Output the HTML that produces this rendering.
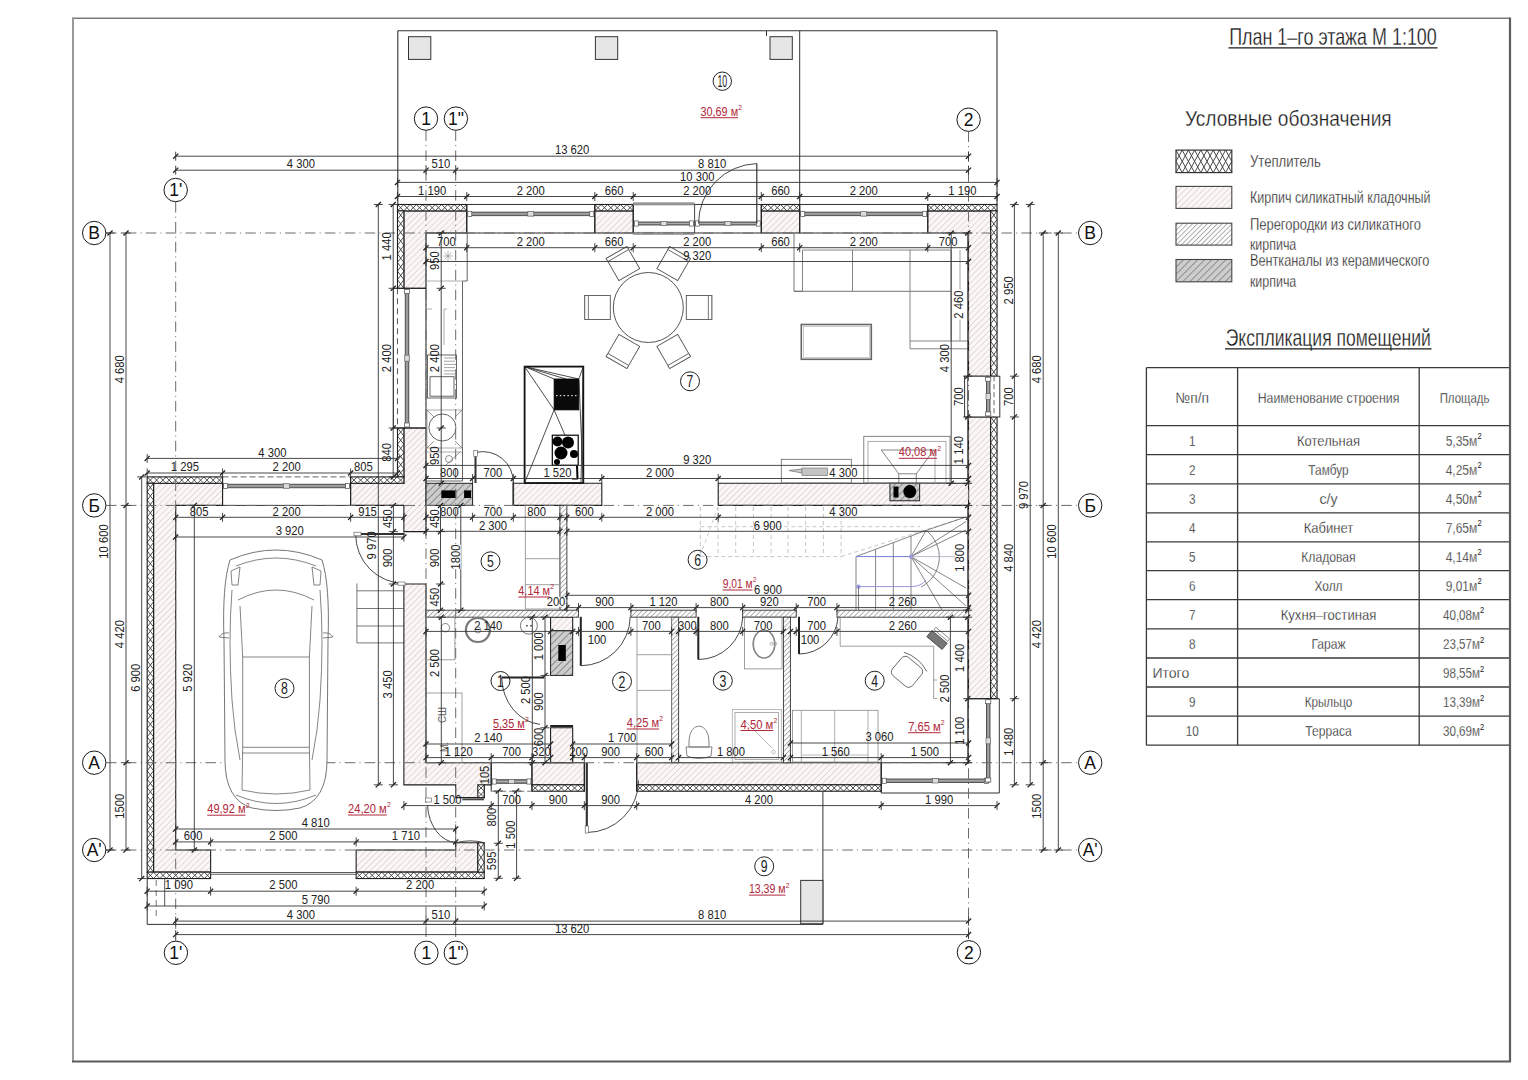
<!DOCTYPE html>
<html><head><meta charset="utf-8"><title>План 1-го этажа</title>
<style>
html,body{margin:0;padding:0;background:#fff;}
body{width:1528px;height:1080px;overflow:hidden;}
svg{display:block;font-family:"Liberation Sans",sans-serif;}
</style></head><body>
<svg width="1528" height="1080" viewBox="0 0 1528 1080">
<rect width="1528" height="1080" fill="#fff"/>
<defs>
<pattern id="brick" patternUnits="userSpaceOnUse" width="4.3" height="4.3" patternTransform="rotate(45)">
<rect width="4.3" height="4.3" fill="#fbf7f6"/><line x1="0" y1="0" x2="0" y2="4.3" stroke="#c6b8b4" stroke-width="0.9"/></pattern>
<pattern id="part" patternUnits="userSpaceOnUse" width="3.5" height="3.5" patternTransform="rotate(45)">
<rect width="3.5" height="3.5" fill="#fdfdfd"/><line x1="0" y1="0" x2="0" y2="3.5" stroke="#6a6a6a" stroke-width="1.0"/></pattern>
<pattern id="vent" patternUnits="userSpaceOnUse" width="5" height="5" patternTransform="rotate(45)">
<rect width="5" height="5" fill="#cdcdcd"/><line x1="0" y1="0" x2="0" y2="5" stroke="#555" stroke-width="1.1"/></pattern>
</defs>
<line x1="397.8" y1="30.7" x2="997" y2="30.7" stroke="#333" stroke-width="1.1"/>
<line x1="397.8" y1="30.7" x2="397.8" y2="204.5" stroke="#333" stroke-width="1.1"/>
<line x1="997" y1="30.7" x2="997" y2="204.5" stroke="#333" stroke-width="1.1"/>
<line x1="799.7" y1="30.7" x2="799.7" y2="204.5" stroke="#333" stroke-width="1"/>
<rect x="408.5" y="36.7" width="22.3" height="22.7" fill="#e6e6e6" stroke="#333" stroke-width="1"/>
<rect x="595.4" y="36.7" width="22.3" height="22.7" fill="#e6e6e6" stroke="#333" stroke-width="1"/>
<rect x="770" y="36.7" width="22.3" height="22.7" fill="#e6e6e6" stroke="#333" stroke-width="1"/>
<line x1="766.5" y1="30.7" x2="766.5" y2="36" stroke="#333" stroke-width="1"/>
<line x1="822.9" y1="791" x2="822.9" y2="923.8" stroke="#333" stroke-width="1"/>
<rect x="800.7" y="880.4" width="22.2" height="43.4" fill="#e6e6e6" stroke="#333" stroke-width="1"/>
<line x1="147.2" y1="878.5" x2="147.2" y2="924.4" stroke="#333" stroke-width="1"/>
<line x1="147.2" y1="924.4" x2="822.9" y2="924.4" stroke="#333" stroke-width="1"/>
<line x1="164.7" y1="878.5" x2="164.7" y2="906.1" stroke="#444" stroke-width="0.9"/>
<line x1="156.2" y1="880" x2="156.2" y2="918" stroke="#666" stroke-width="0.9" stroke-dasharray="6 4"/>
<polygon points="403.88,210.88 466.75,210.88 466.75,233 426,233 426,288.3 403.88,288.3" fill="url(#brick)" stroke="#1e1e1e" stroke-width="1.1"/>
<polygon points="594.81,210.88 633.23,210.88 633.23,233 594.81,233" fill="url(#brick)" stroke="#1e1e1e" stroke-width="1.1"/>
<polygon points="761.29,210.88 799.71,210.88 799.71,233 761.29,233" fill="url(#brick)" stroke="#1e1e1e" stroke-width="1.1"/>
<polygon points="927.77,210.88 990.64,210.88 990.64,376.2 968.52,376.2 968.52,233 927.77,233" fill="url(#brick)" stroke="#1e1e1e" stroke-width="1.1"/>
<polygon points="968.52,416.94 990.64,416.94 990.64,698.68 968.52,698.68" fill="url(#brick)" stroke="#1e1e1e" stroke-width="1.1"/>
<polygon points="153.58,483.3 222.56,483.3 222.56,505.42 175.7,505.42 175.7,850.03 210.63,850.03 210.63,872.15 153.58,872.15" fill="url(#brick)" stroke="#1e1e1e" stroke-width="1.1"/>
<polygon points="350.62,483.3 403.88,483.3 403.88,428 426,428 426,531.62 403.88,531.62 403.88,505.42 350.62,505.42" fill="url(#brick)" stroke="#1e1e1e" stroke-width="1.1"/>
<polygon points="403.88,584.01 426,584.01 426,762.71 491.2,762.71 491.2,784.83 484.21,784.83 484.21,797.64 455.69,797.64 455.69,784.83 403.88,784.83" fill="url(#brick)" stroke="#1e1e1e" stroke-width="1.1"/>
<polygon points="356.15,850.03 455.69,850.03 455.69,842.75 477.81,842.75 477.81,872.15 356.15,872.15" fill="url(#brick)" stroke="#1e1e1e" stroke-width="1.1"/>
<polygon points="531.95,762.71 584.33,762.71 584.33,784.83 531.95,784.83" fill="url(#brick)" stroke="#1e1e1e" stroke-width="1.1"/>
<polygon points="636.72,762.71 881.21,762.71 881.21,784.83 636.72,784.83" fill="url(#brick)" stroke="#1e1e1e" stroke-width="1.1"/>
<polygon points="513.32,483.3 601.8,483.3 601.8,505.42 513.32,505.42" fill="url(#brick)" stroke="#1e1e1e" stroke-width="1.1"/>
<polygon points="718.22,483.3 968.52,483.3 968.52,505.42 718.22,505.42" fill="url(#brick)" stroke="#1e1e1e" stroke-width="1.1"/>
<polygon points="550.57,617.19 572.69,617.19 572.69,630.81 550.57,630.81" fill="url(#brick)" stroke="#1e1e1e" stroke-width="1.1"/>
<polygon points="550.57,727.78 572.69,727.78 572.69,762.71 550.57,762.71" fill="url(#brick)" stroke="#1e1e1e" stroke-width="1.1"/>
<rect x="426" y="483.3" width="46.57" height="22.12" fill="url(#vent)" stroke="#222" stroke-width="1"/>
<rect x="889.94" y="483.3" width="29.69" height="17.46" fill="url(#vent)" stroke="#222" stroke-width="1"/>
<rect x="550.57" y="630.81" width="22.12" height="44.59" fill="url(#vent)" stroke="#222" stroke-width="1"/>
<rect x="559.89" y="505.42" width="6.99" height="104.78" fill="url(#part)" stroke="#333" stroke-width="0.9"/>
<rect x="426" y="610.2" width="152.51" height="6.99" fill="url(#part)" stroke="#333" stroke-width="0.9"/>
<rect x="630.9" y="610.2" width="65.2" height="6.99" fill="url(#part)" stroke="#333" stroke-width="0.9"/>
<rect x="742.67" y="610.2" width="53.55" height="6.99" fill="url(#part)" stroke="#333" stroke-width="0.9"/>
<rect x="836.97" y="610.2" width="131.55" height="6.99" fill="url(#part)" stroke="#333" stroke-width="0.9"/>
<rect x="671.65" y="617.19" width="6.99" height="145.53" fill="url(#part)" stroke="#333" stroke-width="0.9"/>
<rect x="783.41" y="617.19" width="6.99" height="145.53" fill="url(#part)" stroke="#333" stroke-width="0.9"/>
<rect x="397.48" y="204.48" width="69.27" height="6.4" fill="#fff" stroke="none" stroke-width="0"/>
<path d="M397.48 204.48L403.78 210.88M403.78 204.48L397.48 210.88M403.78 204.48L410.07 210.88M410.07 204.48L403.78 210.88M410.07 204.48L416.37 210.88M416.37 204.48L410.07 210.88M416.37 204.48L422.67 210.88M422.67 204.48L416.37 210.88M422.67 204.48L428.97 210.88M428.97 204.48L422.67 210.88M428.97 204.48L435.26 210.88M435.26 204.48L428.97 210.88M435.26 204.48L441.56 210.88M441.56 204.48L435.26 210.88M441.56 204.48L447.86 210.88M447.86 204.48L441.56 210.88M447.86 204.48L454.16 210.88M454.16 204.48L447.86 210.88M454.16 204.48L460.45 210.88M460.45 204.48L454.16 210.88M460.45 204.48L466.75 210.88M466.75 204.48L460.45 210.88" stroke="#3a3a3a" stroke-width="0.9" fill="none"/>
<rect x="397.48" y="204.48" width="69.27" height="6.4" fill="none" stroke="#1e1e1e" stroke-width="1.1"/>
<rect x="594.81" y="204.48" width="38.42" height="6.4" fill="#fff" stroke="none" stroke-width="0"/>
<path d="M594.81 204.48L601.22 210.88M601.22 204.48L594.81 210.88M601.22 204.48L607.62 210.88M607.62 204.48L601.22 210.88M607.62 204.48L614.02 210.88M614.02 204.48L607.62 210.88M614.02 204.48L620.42 210.88M620.42 204.48L614.02 210.88M620.42 204.48L626.83 210.88M626.83 204.48L620.42 210.88M626.83 204.48L633.23 210.88M633.23 204.48L626.83 210.88" stroke="#3a3a3a" stroke-width="0.9" fill="none"/>
<rect x="594.81" y="204.48" width="38.42" height="6.4" fill="none" stroke="#1e1e1e" stroke-width="1.1"/>
<rect x="761.29" y="204.48" width="38.42" height="6.4" fill="#fff" stroke="none" stroke-width="0"/>
<path d="M761.29 204.48L767.7 210.88M767.7 204.48L761.29 210.88M767.7 204.48L774.1 210.88M774.1 204.48L767.7 210.88M774.1 204.48L780.5 210.88M780.5 204.48L774.1 210.88M780.5 204.48L786.9 210.88M786.9 204.48L780.5 210.88M786.9 204.48L793.31 210.88M793.31 204.48L786.9 210.88M793.31 204.48L799.71 210.88M799.71 204.48L793.31 210.88" stroke="#3a3a3a" stroke-width="0.9" fill="none"/>
<rect x="761.29" y="204.48" width="38.42" height="6.4" fill="none" stroke="#1e1e1e" stroke-width="1.1"/>
<rect x="927.77" y="204.48" width="69.27" height="6.4" fill="#fff" stroke="none" stroke-width="0"/>
<path d="M927.77 204.48L934.07 210.88M934.07 204.48L927.77 210.88M934.07 204.48L940.37 210.88M940.37 204.48L934.07 210.88M940.37 204.48L946.66 210.88M946.66 204.48L940.37 210.88M946.66 204.48L952.96 210.88M952.96 204.48L946.66 210.88M952.96 204.48L959.26 210.88M959.26 204.48L952.96 210.88M959.26 204.48L965.56 210.88M965.56 204.48L959.26 210.88M965.56 204.48L971.85 210.88M971.85 204.48L965.56 210.88M971.85 204.48L978.15 210.88M978.15 204.48L971.85 210.88M978.15 204.48L984.45 210.88M984.45 204.48L978.15 210.88M984.45 204.48L990.75 210.88M990.75 204.48L984.45 210.88M990.75 204.48L997.04 210.88M997.04 204.48L990.75 210.88" stroke="#3a3a3a" stroke-width="0.9" fill="none"/>
<rect x="927.77" y="204.48" width="69.27" height="6.4" fill="none" stroke="#1e1e1e" stroke-width="1.1"/>
<rect x="397.48" y="210.88" width="6.4" height="77.42" fill="#fff" stroke="none" stroke-width="0"/>
<path d="M397.48 210.88L403.88 219.48M403.88 210.88L397.48 219.48M397.48 219.48L403.88 228.08M403.88 219.48L397.48 228.08M397.48 228.08L403.88 236.69M403.88 228.08L397.48 236.69M397.48 236.69L403.88 245.29M403.88 236.69L397.48 245.29M397.48 245.29L403.88 253.89M403.88 245.29L397.48 253.89M397.48 253.89L403.88 262.49M403.88 253.89L397.48 262.49M397.48 262.49L403.88 271.1M403.88 262.49L397.48 271.1M397.48 271.1L403.88 279.7M403.88 271.1L397.48 279.7M397.48 279.7L403.88 288.3M403.88 279.7L397.48 288.3" stroke="#3a3a3a" stroke-width="0.9" fill="none"/>
<rect x="397.48" y="210.88" width="6.4" height="77.42" fill="none" stroke="#1e1e1e" stroke-width="1.1"/>
<rect x="397.48" y="428" width="6.4" height="48.9" fill="#fff" stroke="none" stroke-width="0"/>
<path d="M397.48 428L403.88 436.15M403.88 428L397.48 436.15M397.48 436.15L403.88 444.3M403.88 436.15L397.48 444.3M397.48 444.3L403.88 452.45M403.88 444.3L397.48 452.45M397.48 452.45L403.88 460.6M403.88 452.45L397.48 460.6M397.48 460.6L403.88 468.75M403.88 460.6L397.48 468.75M397.48 468.75L403.88 476.9M403.88 468.75L397.48 476.9" stroke="#3a3a3a" stroke-width="0.9" fill="none"/>
<rect x="397.48" y="428" width="6.4" height="48.9" fill="none" stroke="#1e1e1e" stroke-width="1.1"/>
<rect x="990.64" y="210.88" width="6.4" height="165.32" fill="#fff" stroke="none" stroke-width="0"/>
<path d="M990.64 210.88L997.04 219.58M997.04 210.88L990.64 219.58M990.64 219.58L997.04 228.28M997.04 219.58L990.64 228.28M990.64 228.28L997.04 236.98M997.04 228.28L990.64 236.98M990.64 236.98L997.04 245.68M997.04 236.98L990.64 245.68M990.64 245.68L997.04 254.38M997.04 245.68L990.64 254.38M990.64 254.38L997.04 263.09M997.04 254.38L990.64 263.09M990.64 263.09L997.04 271.79M997.04 263.09L990.64 271.79M990.64 271.79L997.04 280.49M997.04 271.79L990.64 280.49M990.64 280.49L997.04 289.19M997.04 280.49L990.64 289.19M990.64 289.19L997.04 297.89M997.04 289.19L990.64 297.89M990.64 297.89L997.04 306.59M997.04 297.89L990.64 306.59M990.64 306.59L997.04 315.29M997.04 306.59L990.64 315.29M990.64 315.29L997.04 323.99M997.04 315.29L990.64 323.99M990.64 323.99L997.04 332.69M997.04 323.99L990.64 332.69M990.64 332.69L997.04 341.39M997.04 332.69L990.64 341.39M990.64 341.39L997.04 350.09M997.04 341.39L990.64 350.09M990.64 350.09L997.04 358.79M997.04 350.09L990.64 358.79M990.64 358.79L997.04 367.5M997.04 358.79L990.64 367.5M990.64 367.5L997.04 376.2M997.04 367.5L990.64 376.2" stroke="#3a3a3a" stroke-width="0.9" fill="none"/>
<rect x="990.64" y="210.88" width="6.4" height="165.32" fill="none" stroke="#1e1e1e" stroke-width="1.1"/>
<rect x="990.64" y="416.94" width="6.4" height="281.74" fill="#fff" stroke="none" stroke-width="0"/>
<path d="M990.64 416.94L997.04 425.48M997.04 416.94L990.64 425.48M990.64 425.48L997.04 434.02M997.04 425.48L990.64 434.02M990.64 434.02L997.04 442.56M997.04 434.02L990.64 442.56M990.64 442.56L997.04 451.09M997.04 442.56L990.64 451.09M990.64 451.09L997.04 459.63M997.04 451.09L990.64 459.63M990.64 459.63L997.04 468.17M997.04 459.63L990.64 468.17M990.64 468.17L997.04 476.71M997.04 468.17L990.64 476.71M990.64 476.71L997.04 485.24M997.04 476.71L990.64 485.24M990.64 485.24L997.04 493.78M997.04 485.24L990.64 493.78M990.64 493.78L997.04 502.32M997.04 493.78L990.64 502.32M990.64 502.32L997.04 510.86M997.04 502.32L990.64 510.86M990.64 510.86L997.04 519.39M997.04 510.86L990.64 519.39M990.64 519.39L997.04 527.93M997.04 519.39L990.64 527.93M990.64 527.93L997.04 536.47M997.04 527.93L990.64 536.47M990.64 536.47L997.04 545.01M997.04 536.47L990.64 545.01M990.64 545.01L997.04 553.54M997.04 545.01L990.64 553.54M990.64 553.54L997.04 562.08M997.04 553.54L990.64 562.08M990.64 562.08L997.04 570.62M997.04 562.08L990.64 570.62M990.64 570.62L997.04 579.16M997.04 570.62L990.64 579.16M990.64 579.16L997.04 587.69M997.04 579.16L990.64 587.69M990.64 587.69L997.04 596.23M997.04 587.69L990.64 596.23M990.64 596.23L997.04 604.77M997.04 596.23L990.64 604.77M990.64 604.77L997.04 613.31M997.04 604.77L990.64 613.31M990.64 613.31L997.04 621.84M997.04 613.31L990.64 621.84M990.64 621.84L997.04 630.38M997.04 621.84L990.64 630.38M990.64 630.38L997.04 638.92M997.04 630.38L990.64 638.92M990.64 638.92L997.04 647.46M997.04 638.92L990.64 647.46M990.64 647.46L997.04 655.99M997.04 647.46L990.64 655.99M990.64 655.99L997.04 664.53M997.04 655.99L990.64 664.53M990.64 664.53L997.04 673.07M997.04 664.53L990.64 673.07M990.64 673.07L997.04 681.61M997.04 673.07L990.64 681.61M990.64 681.61L997.04 690.14M997.04 681.61L990.64 690.14M990.64 690.14L997.04 698.68M997.04 690.14L990.64 698.68" stroke="#3a3a3a" stroke-width="0.9" fill="none"/>
<rect x="990.64" y="416.94" width="6.4" height="281.74" fill="none" stroke="#1e1e1e" stroke-width="1.1"/>
<rect x="147.18" y="476.9" width="75.38" height="6.4" fill="#fff" stroke="none" stroke-width="0"/>
<path d="M147.18 476.9L153.46 483.3M153.46 476.9L147.18 483.3M153.46 476.9L159.74 483.3M159.74 476.9L153.46 483.3M159.74 476.9L166.02 483.3M166.02 476.9L159.74 483.3M166.02 476.9L172.3 483.3M172.3 476.9L166.02 483.3M172.3 476.9L178.59 483.3M178.59 476.9L172.3 483.3M178.59 476.9L184.87 483.3M184.87 476.9L178.59 483.3M184.87 476.9L191.15 483.3M191.15 476.9L184.87 483.3M191.15 476.9L197.43 483.3M197.43 476.9L191.15 483.3M197.43 476.9L203.71 483.3M203.71 476.9L197.43 483.3M203.71 476.9L210 483.3M210 476.9L203.71 483.3M210 476.9L216.28 483.3M216.28 476.9L210 483.3M216.28 476.9L222.56 483.3M222.56 476.9L216.28 483.3" stroke="#3a3a3a" stroke-width="0.9" fill="none"/>
<rect x="147.18" y="476.9" width="75.38" height="6.4" fill="none" stroke="#1e1e1e" stroke-width="1.1"/>
<rect x="350.62" y="476.9" width="53.26" height="6.4" fill="#fff" stroke="none" stroke-width="0"/>
<path d="M350.62 476.9L357.28 483.3M357.28 476.9L350.62 483.3M357.28 476.9L363.94 483.3M363.94 476.9L357.28 483.3M363.94 476.9L370.59 483.3M370.59 476.9L363.94 483.3M370.59 476.9L377.25 483.3M377.25 476.9L370.59 483.3M377.25 476.9L383.91 483.3M383.91 476.9L377.25 483.3M383.91 476.9L390.57 483.3M390.57 476.9L383.91 483.3M390.57 476.9L397.23 483.3M397.23 476.9L390.57 483.3M397.23 476.9L403.88 483.3M403.88 476.9L397.23 483.3" stroke="#3a3a3a" stroke-width="0.9" fill="none"/>
<rect x="350.62" y="476.9" width="53.26" height="6.4" fill="none" stroke="#1e1e1e" stroke-width="1.1"/>
<rect x="147.18" y="483.3" width="6.4" height="388.84" fill="#fff" stroke="none" stroke-width="0"/>
<path d="M147.18 483.3L153.58 491.76M153.58 483.3L147.18 491.76M147.18 491.76L153.58 500.21M153.58 491.76L147.18 500.21M147.18 500.21L153.58 508.66M153.58 500.21L147.18 508.66M147.18 508.66L153.58 517.12M153.58 508.66L147.18 517.12M147.18 517.12L153.58 525.57M153.58 517.12L147.18 525.57M147.18 525.57L153.58 534.02M153.58 525.57L147.18 534.02M147.18 534.02L153.58 542.47M153.58 534.02L147.18 542.47M147.18 542.47L153.58 550.93M153.58 542.47L147.18 550.93M147.18 550.93L153.58 559.38M153.58 550.93L147.18 559.38M147.18 559.38L153.58 567.83M153.58 559.38L147.18 567.83M147.18 567.83L153.58 576.29M153.58 567.83L147.18 576.29M147.18 576.29L153.58 584.74M153.58 576.29L147.18 584.74M147.18 584.74L153.58 593.19M153.58 584.74L147.18 593.19M147.18 593.19L153.58 601.65M153.58 593.19L147.18 601.65M147.18 601.65L153.58 610.1M153.58 601.65L147.18 610.1M147.18 610.1L153.58 618.55M153.58 610.1L147.18 618.55M147.18 618.55L153.58 627.01M153.58 618.55L147.18 627.01M147.18 627.01L153.58 635.46M153.58 627.01L147.18 635.46M147.18 635.46L153.58 643.91M153.58 635.46L147.18 643.91M147.18 643.91L153.58 652.37M153.58 643.91L147.18 652.37M147.18 652.37L153.58 660.82M153.58 652.37L147.18 660.82M147.18 660.82L153.58 669.27M153.58 660.82L147.18 669.27M147.18 669.27L153.58 677.72M153.58 669.27L147.18 677.72M147.18 677.72L153.58 686.18M153.58 677.72L147.18 686.18M147.18 686.18L153.58 694.63M153.58 686.18L147.18 694.63M147.18 694.63L153.58 703.08M153.58 694.63L147.18 703.08M147.18 703.08L153.58 711.54M153.58 703.08L147.18 711.54M147.18 711.54L153.58 719.99M153.58 711.54L147.18 719.99M147.18 719.99L153.58 728.44M153.58 719.99L147.18 728.44M147.18 728.44L153.58 736.9M153.58 728.44L147.18 736.9M147.18 736.9L153.58 745.35M153.58 736.9L147.18 745.35M147.18 745.35L153.58 753.8M153.58 745.35L147.18 753.8M147.18 753.8L153.58 762.26M153.58 753.8L147.18 762.26M147.18 762.26L153.58 770.71M153.58 762.26L147.18 770.71M147.18 770.71L153.58 779.16M153.58 770.71L147.18 779.16M147.18 779.16L153.58 787.61M153.58 779.16L147.18 787.61M147.18 787.61L153.58 796.07M153.58 787.61L147.18 796.07M147.18 796.07L153.58 804.52M153.58 796.07L147.18 804.52M147.18 804.52L153.58 812.97M153.58 804.52L147.18 812.97M147.18 812.97L153.58 821.43M153.58 812.97L147.18 821.43M147.18 821.43L153.58 829.88M153.58 821.43L147.18 829.88M147.18 829.88L153.58 838.33M153.58 829.88L147.18 838.33M147.18 838.33L153.58 846.79M153.58 838.33L147.18 846.79M147.18 846.79L153.58 855.24M153.58 846.79L147.18 855.24M147.18 855.24L153.58 863.69M153.58 855.24L147.18 863.69M147.18 863.69L153.58 872.15M153.58 863.69L147.18 872.15" stroke="#3a3a3a" stroke-width="0.9" fill="none"/>
<rect x="147.18" y="483.3" width="6.4" height="388.84" fill="none" stroke="#1e1e1e" stroke-width="1.1"/>
<rect x="147.18" y="872.15" width="63.45" height="6.4" fill="#fff" stroke="none" stroke-width="0"/>
<path d="M147.18 872.15L153.52 878.55M153.52 872.15L147.18 878.55M153.52 872.15L159.87 878.55M159.87 872.15L153.52 878.55M159.87 872.15L166.21 878.55M166.21 872.15L159.87 878.55M166.21 872.15L172.56 878.55M172.56 872.15L166.21 878.55M172.56 872.15L178.9 878.55M178.9 872.15L172.56 878.55M178.9 872.15L185.25 878.55M185.25 872.15L178.9 878.55M185.25 872.15L191.59 878.55M191.59 872.15L185.25 878.55M191.59 872.15L197.94 878.55M197.94 872.15L191.59 878.55M197.94 872.15L204.28 878.55M204.28 872.15L197.94 878.55M204.28 872.15L210.63 878.55M210.63 872.15L204.28 878.55" stroke="#3a3a3a" stroke-width="0.9" fill="none"/>
<rect x="147.18" y="872.15" width="63.45" height="6.4" fill="none" stroke="#1e1e1e" stroke-width="1.1"/>
<rect x="356.15" y="872.15" width="128.06" height="6.4" fill="#fff" stroke="none" stroke-width="0"/>
<path d="M356.15 872.15L362.55 878.55M362.55 872.15L356.15 878.55M362.55 872.15L368.96 878.55M368.96 872.15L362.55 878.55M368.96 872.15L375.36 878.55M375.36 872.15L368.96 878.55M375.36 872.15L381.76 878.55M381.76 872.15L375.36 878.55M381.76 872.15L388.17 878.55M388.17 872.15L381.76 878.55M388.17 872.15L394.57 878.55M394.57 872.15L388.17 878.55M394.57 872.15L400.97 878.55M400.97 872.15L394.57 878.55M400.97 872.15L407.38 878.55M407.38 872.15L400.97 878.55M407.38 872.15L413.78 878.55M413.78 872.15L407.38 878.55M413.78 872.15L420.18 878.55M420.18 872.15L413.78 878.55M420.18 872.15L426.59 878.55M426.59 872.15L420.18 878.55M426.59 872.15L432.99 878.55M432.99 872.15L426.59 878.55M432.99 872.15L439.39 878.55M439.39 872.15L432.99 878.55M439.39 872.15L445.79 878.55M445.79 872.15L439.39 878.55M445.79 872.15L452.2 878.55M452.2 872.15L445.79 878.55M452.2 872.15L458.6 878.55M458.6 872.15L452.2 878.55M458.6 872.15L465 878.55M465 872.15L458.6 878.55M465 872.15L471.41 878.55M471.41 872.15L465 878.55M471.41 872.15L477.81 878.55M477.81 872.15L471.41 878.55M477.81 872.15L484.21 878.55M484.21 872.15L477.81 878.55" stroke="#3a3a3a" stroke-width="0.9" fill="none"/>
<rect x="356.15" y="872.15" width="128.06" height="6.4" fill="none" stroke="#1e1e1e" stroke-width="1.1"/>
<rect x="477.81" y="842.75" width="6.4" height="29.4" fill="#fff" stroke="none" stroke-width="0"/>
<path d="M477.81 842.75L484.21 852.55M484.21 842.75L477.81 852.55M477.81 852.55L484.21 862.35M484.21 852.55L477.81 862.35M477.81 862.35L484.21 872.15M484.21 862.35L477.81 872.15" stroke="#3a3a3a" stroke-width="0.9" fill="none"/>
<rect x="477.81" y="842.75" width="6.4" height="29.4" fill="none" stroke="#1e1e1e" stroke-width="1.1"/>
<rect x="531.95" y="784.83" width="52.39" height="6.4" fill="#fff" stroke="none" stroke-width="0"/>
<path d="M531.95 784.83L538.49 791.23M538.49 784.83L531.95 791.23M538.49 784.83L545.04 791.23M545.04 784.83L538.49 791.23M545.04 784.83L551.59 791.23M551.59 784.83L545.04 791.23M551.59 784.83L558.14 791.23M558.14 784.83L551.59 791.23M558.14 784.83L564.69 791.23M564.69 784.83L558.14 791.23M564.69 784.83L571.24 791.23M571.24 784.83L564.69 791.23M571.24 784.83L577.79 791.23M577.79 784.83L571.24 791.23M577.79 784.83L584.33 791.23M584.33 784.83L577.79 791.23" stroke="#3a3a3a" stroke-width="0.9" fill="none"/>
<rect x="531.95" y="784.83" width="52.39" height="6.4" fill="none" stroke="#1e1e1e" stroke-width="1.1"/>
<rect x="636.72" y="784.83" width="244.48" height="6.4" fill="#fff" stroke="none" stroke-width="0"/>
<path d="M636.72 784.83L642.99 791.23M642.99 784.83L636.72 791.23M642.99 784.83L649.26 791.23M649.26 784.83L642.99 791.23M649.26 784.83L655.53 791.23M655.53 784.83L649.26 791.23M655.53 784.83L661.8 791.23M661.8 784.83L655.53 791.23M661.8 784.83L668.07 791.23M668.07 784.83L661.8 791.23M668.07 784.83L674.34 791.23M674.34 784.83L668.07 791.23M674.34 784.83L680.6 791.23M680.6 784.83L674.34 791.23M680.6 784.83L686.87 791.23M686.87 784.83L680.6 791.23M686.87 784.83L693.14 791.23M693.14 784.83L686.87 791.23M693.14 784.83L699.41 791.23M699.41 784.83L693.14 791.23M699.41 784.83L705.68 791.23M705.68 784.83L699.41 791.23M705.68 784.83L711.95 791.23M711.95 784.83L705.68 791.23M711.95 784.83L718.22 791.23M718.22 784.83L711.95 791.23M718.22 784.83L724.49 791.23M724.49 784.83L718.22 791.23M724.49 784.83L730.75 791.23M730.75 784.83L724.49 791.23M730.75 784.83L737.02 791.23M737.02 784.83L730.75 791.23M737.02 784.83L743.29 791.23M743.29 784.83L737.02 791.23M743.29 784.83L749.56 791.23M749.56 784.83L743.29 791.23M749.56 784.83L755.83 791.23M755.83 784.83L749.56 791.23M755.83 784.83L762.1 791.23M762.1 784.83L755.83 791.23M762.1 784.83L768.37 791.23M768.37 784.83L762.1 791.23M768.37 784.83L774.64 791.23M774.64 784.83L768.37 791.23M774.64 784.83L780.9 791.23M780.9 784.83L774.64 791.23M780.9 784.83L787.17 791.23M787.17 784.83L780.9 791.23M787.17 784.83L793.44 791.23M793.44 784.83L787.17 791.23M793.44 784.83L799.71 791.23M799.71 784.83L793.44 791.23M799.71 784.83L805.98 791.23M805.98 784.83L799.71 791.23M805.98 784.83L812.25 791.23M812.25 784.83L805.98 791.23M812.25 784.83L818.52 791.23M818.52 784.83L812.25 791.23M818.52 784.83L824.79 791.23M824.79 784.83L818.52 791.23M824.79 784.83L831.06 791.23M831.06 784.83L824.79 791.23M831.06 784.83L837.32 791.23M837.32 784.83L831.06 791.23M837.32 784.83L843.59 791.23M843.59 784.83L837.32 791.23M843.59 784.83L849.86 791.23M849.86 784.83L843.59 791.23M849.86 784.83L856.13 791.23M856.13 784.83L849.86 791.23M856.13 784.83L862.4 791.23M862.4 784.83L856.13 791.23M862.4 784.83L868.67 791.23M868.67 784.83L862.4 791.23M868.67 784.83L874.94 791.23M874.94 784.83L868.67 791.23M874.94 784.83L881.21 791.23M881.21 784.83L874.94 791.23" stroke="#3a3a3a" stroke-width="0.9" fill="none"/>
<rect x="636.72" y="784.83" width="244.48" height="6.4" fill="none" stroke="#1e1e1e" stroke-width="1.1"/>
<rect x="477.81" y="784.83" width="6.4" height="12.81" fill="#fff" stroke="none" stroke-width="0"/>
<path d="M477.81 784.83L484.21 791.23M484.21 784.83L477.81 791.23M477.81 791.23L484.21 797.64M484.21 791.23L477.81 797.64" stroke="#3a3a3a" stroke-width="0.9" fill="none"/>
<rect x="477.81" y="784.83" width="6.4" height="12.81" fill="none" stroke="#1e1e1e" stroke-width="1.1"/>
<line x1="466.75" y1="204.48" x2="594.81" y2="204.48" stroke="#333" stroke-width="1"/>
<line x1="466.75" y1="233" x2="594.81" y2="233" stroke="#333" stroke-width="1"/>
<line x1="466.75" y1="204.48" x2="466.75" y2="233" stroke="#222" stroke-width="1"/>
<line x1="594.81" y1="204.48" x2="594.81" y2="233" stroke="#222" stroke-width="1"/>
<rect x="467.75" y="212.1" width="126.06" height="3.6" fill="#8c8c8c" stroke="#3a3a3a" stroke-width="0.8"/>
<line x1="467.75" y1="213.9" x2="593.81" y2="213.9" stroke="#cfcfcf" stroke-width="0.5"/>
<rect x="467.75" y="211.3" width="4" height="5.2" fill="#fff" stroke="#555" stroke-width="0.7"/>
<rect x="589.81" y="211.3" width="4" height="5.2" fill="#fff" stroke="#555" stroke-width="0.7"/>
<rect x="527.78" y="211.7" width="6" height="4.4" fill="#ddd" stroke="#555" stroke-width="0.6"/>
<line x1="799.71" y1="204.48" x2="927.77" y2="204.48" stroke="#333" stroke-width="1"/>
<line x1="799.71" y1="233" x2="927.77" y2="233" stroke="#333" stroke-width="1"/>
<line x1="799.71" y1="204.48" x2="799.71" y2="233" stroke="#222" stroke-width="1"/>
<line x1="927.77" y1="204.48" x2="927.77" y2="233" stroke="#222" stroke-width="1"/>
<rect x="800.71" y="212.1" width="126.06" height="3.6" fill="#8c8c8c" stroke="#3a3a3a" stroke-width="0.8"/>
<line x1="800.71" y1="213.9" x2="926.77" y2="213.9" stroke="#cfcfcf" stroke-width="0.5"/>
<rect x="800.71" y="211.3" width="4" height="5.2" fill="#fff" stroke="#555" stroke-width="0.7"/>
<rect x="922.77" y="211.3" width="4" height="5.2" fill="#fff" stroke="#555" stroke-width="0.7"/>
<rect x="860.74" y="211.7" width="6" height="4.4" fill="#ddd" stroke="#555" stroke-width="0.6"/>
<line x1="633.23" y1="204.48" x2="761.29" y2="204.48" stroke="#333" stroke-width="1"/>
<line x1="633.23" y1="233" x2="761.29" y2="233" stroke="#333" stroke-width="1"/>
<line x1="633.23" y1="204.48" x2="633.23" y2="233" stroke="#222" stroke-width="1"/>
<line x1="761.29" y1="204.48" x2="761.29" y2="233" stroke="#222" stroke-width="1"/>
<rect x="633.23" y="202.8" width="61.37" height="2.2" fill="#999" stroke="#777" stroke-width="0.5"/>
<rect x="633.23" y="232.2" width="61.37" height="2.2" fill="#999" stroke="#777" stroke-width="0.5"/>
<line x1="694.6" y1="204.5" x2="694.6" y2="233" stroke="#333" stroke-width="0.9"/>
<rect x="634.23" y="222" width="59.37" height="3" fill="#8c8c8c" stroke="#3a3a3a" stroke-width="0.8"/>
<line x1="634.23" y1="223.5" x2="693.6" y2="223.5" stroke="#cfcfcf" stroke-width="0.5"/>
<rect x="634.23" y="220.9" width="4" height="5.2" fill="#fff" stroke="#555" stroke-width="0.7"/>
<rect x="689.6" y="220.9" width="4" height="5.2" fill="#fff" stroke="#555" stroke-width="0.7"/>
<rect x="660.92" y="221.3" width="6" height="4.4" fill="#ddd" stroke="#555" stroke-width="0.6"/>
<rect x="695.6" y="222" width="64.69" height="3" fill="#8c8c8c" stroke="#3a3a3a" stroke-width="0.8"/>
<line x1="695.6" y1="223.5" x2="760.29" y2="223.5" stroke="#cfcfcf" stroke-width="0.5"/>
<rect x="695.6" y="220.9" width="4" height="5.2" fill="#fff" stroke="#555" stroke-width="0.7"/>
<rect x="756.29" y="220.9" width="4" height="5.2" fill="#fff" stroke="#555" stroke-width="0.7"/>
<rect x="724.95" y="221.3" width="6" height="4.4" fill="#ddd" stroke="#555" stroke-width="0.6"/>
<line x1="756.8" y1="223.5" x2="756.8" y2="163.6" stroke="#333" stroke-width="1.2"/>
<path d="M756.8 163.6 A60 60 0 0 0 698.5 223.5" stroke="#333" stroke-width="0.9" fill="none"/>
<line x1="397.48" y1="288.3" x2="397.48" y2="428" stroke="#555" stroke-width="1" stroke-dasharray="6 4"/>
<line x1="426" y1="288.3" x2="426" y2="428" stroke="#333" stroke-width="1.1"/>
<line x1="393.48" y1="288.3" x2="426" y2="288.3" stroke="#222" stroke-width="1"/>
<line x1="393.48" y1="428" x2="426" y2="428" stroke="#222" stroke-width="1"/>
<line x1="393.48" y1="288.3" x2="393.48" y2="428" stroke="#555" stroke-width="1"/>
<rect x="405.2" y="289.3" width="3.6" height="137.7" fill="#8c8c8c" stroke="#3a3a3a" stroke-width="0.8"/>
<line x1="407" y1="289.3" x2="407" y2="427" stroke="#cfcfcf" stroke-width="0.5"/>
<rect x="404.4" y="289.3" width="5.2" height="4" fill="#fff" stroke="#555" stroke-width="0.7"/>
<rect x="404.4" y="423" width="5.2" height="4" fill="#fff" stroke="#555" stroke-width="0.7"/>
<rect x="404.8" y="355.15" width="4.4" height="6" fill="#ddd" stroke="#555" stroke-width="0.6"/>
<rect x="964.6" y="376.2" width="35.2" height="40.75" fill="#fff" stroke="#333" stroke-width="1"/>
<line x1="994" y1="376.2" x2="994" y2="416.94" stroke="#555" stroke-width="0.9" stroke-dasharray="5 3"/>
<rect x="986.4" y="377.2" width="3.6" height="38.75" fill="#8c8c8c" stroke="#3a3a3a" stroke-width="0.8"/>
<line x1="988.2" y1="377.2" x2="988.2" y2="415.94" stroke="#cfcfcf" stroke-width="0.5"/>
<rect x="985.6" y="377.2" width="5.2" height="4" fill="#fff" stroke="#555" stroke-width="0.7"/>
<rect x="985.6" y="411.94" width="5.2" height="4" fill="#fff" stroke="#555" stroke-width="0.7"/>
<rect x="986" y="393.57" width="4.4" height="6" fill="#ddd" stroke="#555" stroke-width="0.6"/>
<line x1="491.2" y1="762.71" x2="491.2" y2="791.23" stroke="#222" stroke-width="1"/>
<line x1="531.95" y1="762.71" x2="531.95" y2="791.23" stroke="#222" stroke-width="1"/>
<line x1="491.2" y1="762.71" x2="531.95" y2="762.71" stroke="#333" stroke-width="1"/>
<line x1="491.2" y1="791.23" x2="531.95" y2="791.23" stroke="#666" stroke-width="0.9" stroke-dasharray="6 3"/>
<rect x="492.2" y="779.7" width="38.75" height="3.6" fill="#8c8c8c" stroke="#3a3a3a" stroke-width="0.8"/>
<line x1="492.2" y1="781.5" x2="530.95" y2="781.5" stroke="#cfcfcf" stroke-width="0.5"/>
<rect x="492.2" y="778.9" width="4" height="5.2" fill="#fff" stroke="#555" stroke-width="0.7"/>
<rect x="526.95" y="778.9" width="4" height="5.2" fill="#fff" stroke="#555" stroke-width="0.7"/>
<rect x="508.57" y="779.3" width="6" height="4.4" fill="#ddd" stroke="#555" stroke-width="0.6"/>
<line x1="881.21" y1="762.71" x2="881.21" y2="793" stroke="#222" stroke-width="1"/>
<line x1="881.21" y1="793" x2="999.3" y2="793" stroke="#333" stroke-width="1"/>
<line x1="999.3" y1="698.68" x2="999.3" y2="793" stroke="#333" stroke-width="1"/>
<line x1="968.52" y1="698.68" x2="999.3" y2="698.68" stroke="#222" stroke-width="1"/>
<line x1="968.52" y1="698.68" x2="968.52" y2="762.71" stroke="#333" stroke-width="1"/>
<line x1="881.21" y1="762.71" x2="968.52" y2="762.71" stroke="#333" stroke-width="1"/>
<rect x="882.21" y="779" width="106.29" height="3.6" fill="#8c8c8c" stroke="#3a3a3a" stroke-width="0.8"/>
<line x1="882.21" y1="780.8" x2="988.5" y2="780.8" stroke="#cfcfcf" stroke-width="0.5"/>
<rect x="882.21" y="778.2" width="4" height="5.2" fill="#fff" stroke="#555" stroke-width="0.7"/>
<rect x="984.5" y="778.2" width="4" height="5.2" fill="#fff" stroke="#555" stroke-width="0.7"/>
<rect x="932.35" y="778.6" width="6" height="4.4" fill="#ddd" stroke="#555" stroke-width="0.6"/>
<rect x="986.4" y="699.68" width="3.6" height="82.32" fill="#8c8c8c" stroke="#3a3a3a" stroke-width="0.8"/>
<line x1="988.2" y1="699.68" x2="988.2" y2="782" stroke="#cfcfcf" stroke-width="0.5"/>
<rect x="985.6" y="699.68" width="5.2" height="4" fill="#fff" stroke="#555" stroke-width="0.7"/>
<rect x="985.6" y="778" width="5.2" height="4" fill="#fff" stroke="#555" stroke-width="0.7"/>
<rect x="986" y="737.84" width="4.4" height="6" fill="#ddd" stroke="#555" stroke-width="0.6"/>
<line x1="584.33" y1="762.71" x2="584.33" y2="791.23" stroke="#222" stroke-width="1"/>
<line x1="636.72" y1="762.71" x2="636.72" y2="791.23" stroke="#222" stroke-width="1"/>
<line x1="586.8" y1="762.7" x2="586.8" y2="832.5" stroke="#333" stroke-width="2.2"/>
<path d="M586.8 832.5 A52 52 0 0 0 638.6 780.5" stroke="#333" stroke-width="0.9" fill="none"/>
<rect x="585.2" y="826" width="3.2" height="7" fill="#fff" stroke="#555" stroke-width="0.6"/>
<line x1="355.7" y1="534.1" x2="404.4" y2="534.1" stroke="#333" stroke-width="2"/>
<path d="M355.7 534.1 A48.7 48.7 0 0 0 404.4 583.4" stroke="#333" stroke-width="0.9" fill="none"/>
<rect x="354" y="532.2" width="7" height="3.6" fill="#fff" stroke="#555" stroke-width="0.6"/>
<rect x="398" y="582" width="7" height="3.2" fill="#fff" stroke="#555" stroke-width="0.6"/>
<line x1="475.5" y1="483" x2="475.5" y2="452.5" stroke="#333" stroke-width="2"/>
<path d="M475.5 452.5 A30.5 30.5 0 0 1 513.3 483" stroke="#333" stroke-width="0.9" fill="none"/>
<rect x="473.8" y="450.5" width="3.6" height="6" fill="#fff" stroke="#555" stroke-width="0.6"/>
<line x1="513.3" y1="483" x2="513.3" y2="505.4" stroke="#333" stroke-width="1.6"/>
<line x1="580.8" y1="616.8" x2="580.8" y2="665.7" stroke="#222" stroke-width="2"/>
<path d="M580.8 665.7 A49.5 49.5 0 0 0 630.2 616.8" stroke="#333" stroke-width="0.9" fill="none"/>
<line x1="698.3" y1="616.8" x2="698.3" y2="659.5" stroke="#222" stroke-width="2"/>
<path d="M698.3 659.5 A44.5 44.5 0 0 0 742.8 616.8" stroke="#333" stroke-width="0.9" fill="none"/>
<line x1="799" y1="616.8" x2="799" y2="654" stroke="#222" stroke-width="2"/>
<path d="M799 654 A39 39 0 0 0 838 616.8" stroke="#333" stroke-width="0.9" fill="none"/>
<line x1="501.7" y1="677.6" x2="544.2" y2="677.6" stroke="#222" stroke-width="2"/>
<path d="M501.7 677.6 A42.5 48 0 0 0 540 724.4" stroke="#333" stroke-width="0.9" fill="none"/>
<line x1="550.2" y1="726" x2="573.1" y2="726" stroke="#222" stroke-width="2"/>
<path d="M427.5 805.4 A30 40 0 0 0 456 842.7" stroke="#333" stroke-width="0.9" fill="none"/>
<path d="M456 842.7 Q470 839 484.5 842.7" stroke="#333" stroke-width="0.9" fill="none"/>
<rect x="425.5" y="798" width="6" height="4" fill="#fff" stroke="#555" stroke-width="0.6"/>
<line x1="462.4" y1="799.4" x2="484" y2="799.4" stroke="#444" stroke-width="1.8"/>
<rect x="210.63" y="872.4" width="145.52" height="1.8" fill="#fff" stroke="#333" stroke-width="0.8"/>
<line x1="222.56" y1="476.9" x2="222.56" y2="505.42" stroke="#222" stroke-width="1"/>
<line x1="350.62" y1="476.9" x2="350.62" y2="505.42" stroke="#222" stroke-width="1"/>
<line x1="222.56" y1="476.9" x2="350.62" y2="476.9" stroke="#555" stroke-width="0.9" stroke-dasharray="6 3"/>
<line x1="222.56" y1="505.42" x2="350.62" y2="505.42" stroke="#333" stroke-width="1"/>
<rect x="223.56" y="484.2" width="126.06" height="3.6" fill="#8c8c8c" stroke="#3a3a3a" stroke-width="0.8"/>
<line x1="223.56" y1="486" x2="349.62" y2="486" stroke="#cfcfcf" stroke-width="0.5"/>
<rect x="223.56" y="483.4" width="4" height="5.2" fill="#fff" stroke="#555" stroke-width="0.7"/>
<rect x="345.62" y="483.4" width="4" height="5.2" fill="#fff" stroke="#555" stroke-width="0.7"/>
<rect x="283.59" y="483.8" width="6" height="4.4" fill="#ddd" stroke="#555" stroke-width="0.6"/>
<path d="M426.5 233 L467.2 233 L467.2 281 L462.5 281 L462.5 481 L426.5 481" stroke="#555" stroke-width="0.9" fill="none"/>
<line x1="426.5" y1="281" x2="462.5" y2="281" stroke="#9a9a9a" stroke-width="0.8"/>
<line x1="443" y1="256" x2="453" y2="256" stroke="#888" stroke-width="0.6"/>
<line x1="444.46" y1="252.46" x2="451.54" y2="259.54" stroke="#888" stroke-width="0.6"/>
<line x1="448" y1="251" x2="448" y2="261" stroke="#888" stroke-width="0.6"/>
<line x1="451.54" y1="252.46" x2="444.46" y2="259.54" stroke="#888" stroke-width="0.6"/>
<line x1="426.5" y1="309" x2="432" y2="309" stroke="#9a9a9a" stroke-width="0.8"/>
<line x1="444" y1="309" x2="447" y2="309" stroke="#9a9a9a" stroke-width="0.8"/>
<line x1="444" y1="309" x2="444" y2="345" stroke="#9a9a9a" stroke-width="0.8"/>
<rect x="427.5" y="355" width="29" height="43" fill="none" stroke="#555" stroke-width="0.9"/>
<rect x="430" y="376.7" width="24" height="19.5" fill="none" stroke="#555" stroke-width="0.9"/>
<line x1="444" y1="358" x2="455" y2="358" stroke="#666" stroke-width="0.6"/>
<line x1="444" y1="361.2" x2="455" y2="361.2" stroke="#666" stroke-width="0.6"/>
<line x1="444" y1="364.4" x2="455" y2="364.4" stroke="#666" stroke-width="0.6"/>
<line x1="444" y1="367.6" x2="455" y2="367.6" stroke="#666" stroke-width="0.6"/>
<line x1="444" y1="370.8" x2="455" y2="370.8" stroke="#666" stroke-width="0.6"/>
<line x1="444" y1="374" x2="455" y2="374" stroke="#666" stroke-width="0.6"/>
<rect x="427" y="410" width="35" height="38" fill="none" stroke="#9a9a9a" stroke-width="0.8"/>
<circle cx="442.4" cy="427.5" r="13.5" fill="none" stroke="#555" stroke-width="0.9"/>
<line x1="427" y1="410" x2="434" y2="417" stroke="#666" stroke-width="0.7"/>
<line x1="462" y1="410" x2="455" y2="417" stroke="#666" stroke-width="0.7"/>
<line x1="427" y1="448" x2="434" y2="441" stroke="#666" stroke-width="0.7"/>
<line x1="462" y1="448" x2="455" y2="441" stroke="#666" stroke-width="0.7"/>
<line x1="427" y1="452" x2="462" y2="452" stroke="#9a9a9a" stroke-width="0.8"/>
<circle cx="449" cy="459" r="3.5" fill="none" stroke="#666" stroke-width="0.7"/>
<line x1="445" y1="466" x2="460" y2="452" stroke="#666" stroke-width="0.7"/>
<circle cx="648.3" cy="307.5" r="35" fill="none" stroke="#555" stroke-width="1"/>
<g transform="translate(598.3,307.5) rotate(180)"><rect x="-12" y="-12" width="25.5" height="24" fill="#fff" stroke="#555" stroke-width="0.9"/><rect x="10" y="-12" width="3.5" height="24" fill="#fff" stroke="#555" stroke-width="0.8"/></g>
<g transform="translate(698.3,307.5) rotate(0)"><rect x="-12" y="-12" width="25.5" height="24" fill="#fff" stroke="#555" stroke-width="0.9"/><rect x="10" y="-12" width="3.5" height="24" fill="#fff" stroke="#555" stroke-width="0.8"/></g>
<g transform="translate(623.3,264.2) rotate(-120)"><rect x="-12" y="-12" width="25.5" height="24" fill="#fff" stroke="#555" stroke-width="0.9"/><rect x="10" y="-12" width="3.5" height="24" fill="#fff" stroke="#555" stroke-width="0.8"/></g>
<g transform="translate(673.3,264.2) rotate(-60)"><rect x="-12" y="-12" width="25.5" height="24" fill="#fff" stroke="#555" stroke-width="0.9"/><rect x="10" y="-12" width="3.5" height="24" fill="#fff" stroke="#555" stroke-width="0.8"/></g>
<g transform="translate(623.3,350.8) rotate(120)"><rect x="-12" y="-12" width="25.5" height="24" fill="#fff" stroke="#555" stroke-width="0.9"/><rect x="10" y="-12" width="3.5" height="24" fill="#fff" stroke="#555" stroke-width="0.8"/></g>
<g transform="translate(673.3,350.8) rotate(60)"><rect x="-12" y="-12" width="25.5" height="24" fill="#fff" stroke="#555" stroke-width="0.9"/><rect x="10" y="-12" width="3.5" height="24" fill="#fff" stroke="#555" stroke-width="0.8"/></g>
<rect x="524.6" y="366.6" width="58.7" height="116.4" fill="#fff" stroke="#111" stroke-width="1.8"/>
<line x1="524.6" y1="366.6" x2="554.1" y2="379" stroke="#222" stroke-width="0.8"/>
<line x1="524.6" y1="366.6" x2="578.8" y2="379" stroke="#222" stroke-width="0.8"/>
<line x1="524.6" y1="366.6" x2="566" y2="379" stroke="#222" stroke-width="0.8"/>
<line x1="524.6" y1="366.6" x2="554.1" y2="409.9" stroke="#222" stroke-width="0.8"/>
<line x1="554.1" y1="409.9" x2="524.6" y2="483" stroke="#222" stroke-width="0.8"/>
<line x1="554.1" y1="409.9" x2="565" y2="435.2" stroke="#222" stroke-width="0.8"/>
<line x1="583.3" y1="366.6" x2="578.8" y2="379" stroke="#222" stroke-width="0.8"/>
<line x1="583.3" y1="366.6" x2="581" y2="483" stroke="#222" stroke-width="0.8"/>
<line x1="579" y1="380" x2="583.3" y2="483" stroke="#222" stroke-width="0.8"/>
<rect x="554.1" y="379" width="24.7" height="30.9" fill="#0a0a0a" stroke="#000" stroke-width="0.8"/>
<rect x="556" y="395" width="1.5" height="1.2" fill="#ddd" stroke="none" stroke-width="0"/>
<rect x="559.8" y="395" width="1.5" height="1.2" fill="#ddd" stroke="none" stroke-width="0"/>
<rect x="563.6" y="395" width="1.5" height="1.2" fill="#ddd" stroke="none" stroke-width="0"/>
<rect x="567.4" y="395" width="1.5" height="1.2" fill="#ddd" stroke="none" stroke-width="0"/>
<rect x="571.2" y="395" width="1.5" height="1.2" fill="#ddd" stroke="none" stroke-width="0"/>
<rect x="575" y="395" width="1.5" height="1.2" fill="#ddd" stroke="none" stroke-width="0"/>
<rect x="552.3" y="435.2" width="25.9" height="30.1" fill="#fff" stroke="#000" stroke-width="1.2"/>
<circle cx="557.5" cy="441.5" r="5" fill="#000" stroke="none" stroke-width="0"/>
<circle cx="568" cy="442.5" r="6" fill="#000" stroke="none" stroke-width="0"/>
<circle cx="561" cy="453" r="6.5" fill="#000" stroke="none" stroke-width="0"/>
<circle cx="574" cy="454" r="4" fill="#000" stroke="none" stroke-width="0"/>
<circle cx="557" cy="462" r="3" fill="#000" stroke="none" stroke-width="0"/>
<line x1="577" y1="465" x2="577.5" y2="479" stroke="#000" stroke-width="2"/>
<line x1="571.8" y1="479" x2="578" y2="479" stroke="#000" stroke-width="1"/>
<path d="M794 233 L794 291.3 L951 291.3" stroke="#666" stroke-width="0.9" fill="none"/>
<line x1="802.5" y1="250" x2="802.5" y2="291.3" stroke="#666" stroke-width="0.8"/>
<line x1="794" y1="291.3" x2="802.5" y2="291.3" stroke="#666" stroke-width="0.8"/>
<line x1="802.5" y1="250" x2="951" y2="250" stroke="#666" stroke-width="0.8"/>
<line x1="852.5" y1="250" x2="852.5" y2="291.3" stroke="#666" stroke-width="0.8"/>
<line x1="910" y1="250" x2="910" y2="341" stroke="#666" stroke-width="0.8"/>
<line x1="951" y1="250" x2="951" y2="341" stroke="#666" stroke-width="0.8"/>
<line x1="910" y1="341" x2="968" y2="341" stroke="#666" stroke-width="0.8"/>
<line x1="910" y1="348.8" x2="968" y2="348.8" stroke="#666" stroke-width="0.8"/>
<line x1="910" y1="341" x2="910" y2="348.8" stroke="#666" stroke-width="0.8"/>
<line x1="960" y1="250" x2="960" y2="341" stroke="#888" stroke-width="0.8"/>
<rect x="801.3" y="324.5" width="70" height="34.8" fill="none" stroke="#666" stroke-width="1.6"/>
<rect x="803.3" y="326.5" width="66" height="30.8" fill="none" stroke="#aaa" stroke-width="0.6"/>
<rect x="781.3" y="459.3" width="70" height="23.7" fill="none" stroke="#666" stroke-width="0.8"/>
<path d="M789 470.5 L802 469 L802 473 Z" stroke="#777" stroke-width="0.8" fill="#ccc"/>
<rect x="802" y="468" width="25.6" height="7.5" fill="#c4c4c4" stroke="#888" stroke-width="0.8"/>
<rect x="863.8" y="436.3" width="86.2" height="46.7" fill="none" stroke="#666" stroke-width="0.8"/>
<rect x="868" y="441.3" width="78" height="41.7" fill="none" stroke="#888" stroke-width="0.7"/>
<path d="M881.3 450 L933.8 450 L916.3 473.8 L898.8 473.8 Z" stroke="#666" stroke-width="0.8" fill="none"/>
<line x1="898.8" y1="473.8" x2="898.8" y2="483" stroke="#666" stroke-width="0.8"/>
<line x1="916.3" y1="473.8" x2="916.3" y2="483" stroke="#666" stroke-width="0.8"/>
<line x1="935" y1="450" x2="935" y2="483" stroke="#999" stroke-width="0.8"/>
<rect x="893.5" y="486.5" width="5" height="11" fill="#000" stroke="none" stroke-width="0"/>
<circle cx="909.8" cy="491.6" r="6.5" fill="#000" stroke="none" stroke-width="0"/>
<rect x="441.3" y="490.4" width="14.9" height="7.6" fill="#000" stroke="none" stroke-width="0"/>
<rect x="464.1" y="490.4" width="7" height="7.6" fill="#000" stroke="none" stroke-width="0"/>
<rect x="558.3" y="645" width="7.5" height="16" fill="#000" stroke="none" stroke-width="0"/>
<line x1="700.3" y1="507" x2="700.3" y2="556.6" stroke="#b8b8b8" stroke-width="0.8" stroke-dasharray="4 3"/>
<line x1="718" y1="507" x2="718" y2="556.6" stroke="#b8b8b8" stroke-width="0.8" stroke-dasharray="4 3"/>
<line x1="735.7" y1="507" x2="735.7" y2="556.6" stroke="#b8b8b8" stroke-width="0.8" stroke-dasharray="4 3"/>
<line x1="753.4" y1="507" x2="753.4" y2="556.6" stroke="#b8b8b8" stroke-width="0.8" stroke-dasharray="4 3"/>
<line x1="771.1" y1="507" x2="771.1" y2="556.6" stroke="#b8b8b8" stroke-width="0.8" stroke-dasharray="4 3"/>
<line x1="788" y1="507" x2="788" y2="556.6" stroke="#b8b8b8" stroke-width="0.8" stroke-dasharray="4 3"/>
<line x1="805.6" y1="507" x2="805.6" y2="556.6" stroke="#b8b8b8" stroke-width="0.8" stroke-dasharray="4 3"/>
<line x1="823.4" y1="507" x2="823.4" y2="556.6" stroke="#b8b8b8" stroke-width="0.8" stroke-dasharray="4 3"/>
<line x1="841.1" y1="507" x2="841.1" y2="556.6" stroke="#b8b8b8" stroke-width="0.8" stroke-dasharray="4 3"/>
<line x1="700.3" y1="526.7" x2="920" y2="526.7" stroke="#b8b8b8" stroke-width="0.8" stroke-dasharray="4 3"/>
<line x1="700.3" y1="556.6" x2="841.1" y2="556.6" stroke="#b8b8b8" stroke-width="0.8" stroke-dasharray="4 3"/>
<line x1="841.1" y1="556.6" x2="966" y2="517" stroke="#b8b8b8" stroke-width="0.8" stroke-dasharray="4 3"/>
<line x1="700" y1="556" x2="718" y2="507" stroke="#b8b8b8" stroke-width="0.7" stroke-dasharray="4 3"/>
<line x1="856" y1="556.6" x2="926" y2="530.4" stroke="#666" stroke-width="0.8"/>
<line x1="926" y1="530.4" x2="966" y2="517" stroke="#666" stroke-width="0.8"/>
<line x1="856" y1="556.6" x2="856" y2="610" stroke="#666" stroke-width="0.8"/>
<line x1="875.6" y1="549.26" x2="875.6" y2="610" stroke="#666" stroke-width="0.8"/>
<line x1="893.3" y1="542.64" x2="893.3" y2="610" stroke="#666" stroke-width="0.8"/>
<line x1="911" y1="536.01" x2="911" y2="610" stroke="#666" stroke-width="0.8"/>
<line x1="911" y1="556.6" x2="926" y2="530.4" stroke="#666" stroke-width="0.8"/>
<line x1="911" y1="556.6" x2="966" y2="521.5" stroke="#666" stroke-width="0.8"/>
<line x1="911" y1="556.6" x2="966" y2="530" stroke="#666" stroke-width="0.8"/>
<line x1="911" y1="556.6" x2="966" y2="588" stroke="#666" stroke-width="0.8"/>
<line x1="911" y1="556.6" x2="966" y2="606" stroke="#666" stroke-width="0.8"/>
<line x1="911" y1="556.6" x2="942" y2="610" stroke="#666" stroke-width="0.8"/>
<path d="M926 530.4 A33.5 33.5 0 0 1 921 587" stroke="#666" stroke-width="0.8" fill="none"/>
<line x1="856" y1="556.6" x2="911" y2="556.6" stroke="#7b7bd6" stroke-width="1"/>
<line x1="911" y1="556.6" x2="955" y2="556.6" stroke="#aab" stroke-width="0.8"/>
<path d="M858.5 586.6 L911 586.6 Q921 586.6 926 580" stroke="#8a8ad8" stroke-width="0.9" fill="none"/>
<circle cx="858.5" cy="586.6" r="2.2" fill="#9a9ae0" stroke="none" stroke-width="0"/>
<circle cx="911" cy="556.6" r="2.2" fill="#9a9ae0" stroke="none" stroke-width="0"/>
<line x1="858.5" y1="586.6" x2="858.5" y2="610" stroke="#666" stroke-width="0.8"/>
<rect x="525.3" y="531.3" width="34.6" height="77.7" fill="none" stroke="#888" stroke-width="0.8"/>
<line x1="525.3" y1="558.7" x2="559.9" y2="558.7" stroke="#888" stroke-width="0.8"/>
<line x1="525.3" y1="584.7" x2="559.9" y2="584.7" stroke="#888" stroke-width="0.8"/>
<line x1="525.3" y1="505.4" x2="525.3" y2="531.3" stroke="#888" stroke-width="0.8"/>
<circle cx="477.9" cy="630" r="12" fill="none" stroke="#777" stroke-width="2.2"/>
<circle cx="477.9" cy="630" r="3" fill="none" stroke="#777" stroke-width="0.8"/>
<circle cx="445.4" cy="627.7" r="4.2" fill="none" stroke="#666" stroke-width="0.8"/>
<circle cx="528.9" cy="625.7" r="8.5" fill="none" stroke="#666" stroke-width="0.9"/>
<circle cx="527" cy="625.7" r="1" fill="#666" stroke="none" stroke-width="0"/>
<circle cx="531" cy="625.7" r="1" fill="#666" stroke="none" stroke-width="0"/>
<rect x="426.5" y="617.2" width="28.4" height="42.6" fill="none" stroke="#888" stroke-width="0.8"/>
<rect x="426.5" y="693" width="35.5" height="69.7" fill="none" stroke="#888" stroke-width="0.8"/>
<text transform="translate(446,715) rotate(-90) scale(0.9,1)" font-size="11" text-anchor="middle" fill="#666">СШ</text>
<text transform="translate(448,747) rotate(-90) scale(0.9,1)" font-size="10" text-anchor="middle" fill="#666">М.</text>
<rect x="637" y="617.2" width="34.6" height="145.5" fill="none" stroke="#888" stroke-width="0.8"/>
<line x1="637" y1="654.7" x2="671.6" y2="654.7" stroke="#888" stroke-width="0.8"/>
<line x1="637" y1="690.4" x2="671.6" y2="690.4" stroke="#888" stroke-width="0.8"/>
<rect x="744.6" y="616.8" width="37.4" height="52.1" fill="none" stroke="#888" stroke-width="0.8"/>
<path d="M764 630 a11 14 0 1 0 0.01 0" stroke="#888" stroke-width="1.2" fill="none"/>
<path d="M753.5 644 a10.5 14 0 1 0 21 0 a10.5 14 0 1 0 -21 0" stroke="#888" stroke-width="1.2" fill="none"/>
<circle cx="771.5" cy="643.7" r="1.4" fill="none" stroke="#888" stroke-width="0.6"/>
<circle cx="775.5" cy="643.7" r="1.4" fill="none" stroke="#888" stroke-width="0.6"/>
<path d="M689 741 a10 15 0 1 1 20 0 l0 6 l-20 0 z" stroke="#777" stroke-width="0.9" fill="none"/>
<path d="M686 747 l26 0 l-1 9 q-12 5 -24 0 z" stroke="#777" stroke-width="0.9" fill="none"/>
<rect x="732.3" y="709.6" width="49" height="52.4" fill="none" stroke="#aaa" stroke-width="0.8"/>
<rect x="735" y="712.5" width="43.5" height="47" fill="none" stroke="#999" stroke-width="0.8"/>
<line x1="744" y1="720" x2="772" y2="748" stroke="#999" stroke-width="0.7"/>
<circle cx="773.5" cy="752" r="1.8" fill="none" stroke="#999" stroke-width="0.6"/>
<path d="M840.2 616.8 L840.2 646.2 L933.7 646.2 L933.7 698.5" stroke="#888" stroke-width="0.8" fill="none"/>
<line x1="933.7" y1="680" x2="937" y2="680" stroke="#888" stroke-width="0.8"/>
<line x1="933.7" y1="698.5" x2="937" y2="698.5" stroke="#888" stroke-width="0.8"/>
<g transform="translate(907,671.8) rotate(40)"><rect x="-13" y="-12" width="26" height="24" rx="5" fill="#fff" stroke="#666" stroke-width="0.9"/><path d="M-15 -13 Q0 -19 15 -13" fill="none" stroke="#666" stroke-width="0.9"/></g>
<g transform="translate(937,640) rotate(40)"><rect x="-10" y="-4" width="20" height="8" fill="#777" stroke="#444" stroke-width="0.8"/><rect x="-9" y="-9" width="18" height="3" fill="#fff" stroke="#666" stroke-width="0.7"/></g>
<rect x="792.4" y="710.3" width="85.6" height="51.7" fill="none" stroke="#888" stroke-width="0.8"/>
<line x1="801.3" y1="710.3" x2="801.3" y2="762" stroke="#999" stroke-width="0.8"/>
<line x1="834.7" y1="710.3" x2="834.7" y2="762" stroke="#999" stroke-width="0.8"/>
<line x1="868" y1="710.3" x2="868" y2="762" stroke="#999" stroke-width="0.8"/>
<line x1="801.3" y1="755" x2="868" y2="755" stroke="#aaa" stroke-width="0.8"/>
<line x1="356.9" y1="590.8" x2="404.4" y2="590.8" stroke="#555" stroke-width="0.8"/>
<line x1="356.9" y1="608.5" x2="404.4" y2="608.5" stroke="#555" stroke-width="0.8"/>
<line x1="356.9" y1="626" x2="404.4" y2="626" stroke="#555" stroke-width="0.8"/>
<line x1="356.9" y1="642.9" x2="404.4" y2="642.9" stroke="#555" stroke-width="0.8"/>
<line x1="356.9" y1="583.4" x2="356.9" y2="642.9" stroke="#555" stroke-width="0.8"/>
<line x1="106" y1="233" x2="1078" y2="233" stroke="#6a6a6a" stroke-width="1" stroke-dasharray="10.5 4.2 1 4.2"/>
<line x1="106" y1="505.42" x2="1078" y2="505.42" stroke="#6a6a6a" stroke-width="1" stroke-dasharray="10.5 4.2 1 4.2"/>
<line x1="106" y1="762.71" x2="1078" y2="762.71" stroke="#6a6a6a" stroke-width="1" stroke-dasharray="10.5 4.2 1 4.2"/>
<line x1="106" y1="850.03" x2="1078" y2="850.03" stroke="#6a6a6a" stroke-width="1" stroke-dasharray="10.5 4.2 1 4.2"/>
<line x1="175.7" y1="202" x2="175.7" y2="941" stroke="#6a6a6a" stroke-width="1" stroke-dasharray="10.5 4.2 1 4.2"/>
<line x1="426" y1="130.5" x2="426" y2="941" stroke="#6a6a6a" stroke-width="1" stroke-dasharray="10.5 4.2 1 4.2"/>
<line x1="455.69" y1="130.5" x2="455.69" y2="941" stroke="#6a6a6a" stroke-width="1" stroke-dasharray="10.5 4.2 1 4.2"/>
<line x1="968.52" y1="131.5" x2="968.52" y2="940" stroke="#6a6a6a" stroke-width="1" stroke-dasharray="10.5 4.2 1 4.2"/>
<path d="M230 560 Q276 540 322 560 Q330 585 328 640 L327 760 Q327 800 300 808 Q276 813 252 808 Q225 800 225 760 L224 640 Q222 585 230 560 Z" stroke="#666" stroke-width="0.9" fill="#fff"/>
<path d="M236 566 Q276 550 316 566" stroke="#666" stroke-width="0.8" fill="none"/>
<path d="M238 600 Q276 580 314 600" stroke="#666" stroke-width="0.8" fill="none"/>
<path d="M242.7 657 L309.4 657 L309.4 747.3 L242.7 747.3 Z" stroke="#666" stroke-width="0.8" fill="none"/>
<path d="M240 606 L242.7 657 M312 606 L309.4 657" stroke="#666" stroke-width="0.8" fill="none"/>
<path d="M242.7 747.3 L242 790 M309.4 747.3 L310 790" stroke="#666" stroke-width="0.8" fill="none"/>
<path d="M242 753 L310 753" stroke="#666" stroke-width="0.8" fill="none"/>
<path d="M242 790 Q276 798 310 790" stroke="#666" stroke-width="0.8" fill="none"/>
<path d="M232 590 Q228 640 232 700 Q234 730 240 760" stroke="#666" stroke-width="0.8" fill="none"/>
<path d="M320 590 Q324 640 320 700 Q318 730 312 760" stroke="#666" stroke-width="0.8" fill="none"/>
<path d="M229 633 Q222 632 219 637 L229 638" stroke="#666" stroke-width="0.8" fill="none"/>
<path d="M323 633 Q330 632 333 637 L323 638" stroke="#666" stroke-width="0.8" fill="none"/>
<path d="M231 571 L240 567 L238 585 L232 585 Z" stroke="#666" stroke-width="0.8" fill="none"/>
<path d="M321 571 L312 567 L314 585 L320 585 Z" stroke="#666" stroke-width="0.8" fill="none"/>
<path d="M236 795 Q276 812 316 795" stroke="#666" stroke-width="0.8" fill="none"/>
<line x1="175.7" y1="156.2" x2="968.52" y2="156.2" stroke="#333" stroke-width="0.9"/>
<line x1="173.14" y1="158.76" x2="178.26" y2="153.64" stroke="#222" stroke-width="1.3"/>
<line x1="175.7" y1="151.7" x2="175.7" y2="160.7" stroke="#333" stroke-width="0.9"/>
<line x1="965.96" y1="158.76" x2="971.08" y2="153.64" stroke="#222" stroke-width="1.3"/>
<line x1="968.52" y1="151.7" x2="968.52" y2="160.7" stroke="#333" stroke-width="0.9"/>
<text transform="translate(572.11,154.4) scale(0.9,1)" font-size="12.5" text-anchor="middle" fill="#222">13 620</text>
<line x1="175.7" y1="170.2" x2="968.52" y2="170.2" stroke="#333" stroke-width="0.9"/>
<line x1="173.14" y1="172.76" x2="178.26" y2="167.64" stroke="#222" stroke-width="1.3"/>
<line x1="175.7" y1="165.7" x2="175.7" y2="174.7" stroke="#333" stroke-width="0.9"/>
<line x1="423.44" y1="172.76" x2="428.56" y2="167.64" stroke="#222" stroke-width="1.3"/>
<line x1="426" y1="165.7" x2="426" y2="174.7" stroke="#333" stroke-width="0.9"/>
<line x1="453.13" y1="172.76" x2="458.25" y2="167.64" stroke="#222" stroke-width="1.3"/>
<line x1="455.69" y1="165.7" x2="455.69" y2="174.7" stroke="#333" stroke-width="0.9"/>
<line x1="965.96" y1="172.76" x2="971.08" y2="167.64" stroke="#222" stroke-width="1.3"/>
<line x1="968.52" y1="165.7" x2="968.52" y2="174.7" stroke="#333" stroke-width="0.9"/>
<text transform="translate(300.85,168.4) scale(0.9,1)" font-size="12.5" text-anchor="middle" fill="#222">4 300</text>
<text transform="translate(440.85,168.4) scale(0.9,1)" font-size="12.5" text-anchor="middle" fill="#222">510</text>
<text transform="translate(712.11,168.4) scale(0.9,1)" font-size="12.5" text-anchor="middle" fill="#222">8 810</text>
<line x1="397.48" y1="182.4" x2="997.04" y2="182.4" stroke="#333" stroke-width="0.9"/>
<line x1="394.92" y1="184.96" x2="400.04" y2="179.84" stroke="#222" stroke-width="1.3"/>
<line x1="397.48" y1="177.9" x2="397.48" y2="186.9" stroke="#333" stroke-width="0.9"/>
<line x1="994.48" y1="184.96" x2="999.6" y2="179.84" stroke="#222" stroke-width="1.3"/>
<line x1="997.04" y1="177.9" x2="997.04" y2="186.9" stroke="#333" stroke-width="0.9"/>
<text transform="translate(697.26,180.6) scale(0.9,1)" font-size="12.5" text-anchor="middle" fill="#222">10 300</text>
<line x1="397.48" y1="196.5" x2="997.04" y2="196.5" stroke="#333" stroke-width="0.9"/>
<line x1="394.92" y1="199.06" x2="400.04" y2="193.94" stroke="#222" stroke-width="1.3"/>
<line x1="397.48" y1="192" x2="397.48" y2="201" stroke="#333" stroke-width="0.9"/>
<line x1="464.19" y1="199.06" x2="469.31" y2="193.94" stroke="#222" stroke-width="1.3"/>
<line x1="466.75" y1="192" x2="466.75" y2="201" stroke="#333" stroke-width="0.9"/>
<line x1="592.25" y1="199.06" x2="597.37" y2="193.94" stroke="#222" stroke-width="1.3"/>
<line x1="594.81" y1="192" x2="594.81" y2="201" stroke="#333" stroke-width="0.9"/>
<line x1="630.67" y1="199.06" x2="635.79" y2="193.94" stroke="#222" stroke-width="1.3"/>
<line x1="633.23" y1="192" x2="633.23" y2="201" stroke="#333" stroke-width="0.9"/>
<line x1="758.73" y1="199.06" x2="763.85" y2="193.94" stroke="#222" stroke-width="1.3"/>
<line x1="761.29" y1="192" x2="761.29" y2="201" stroke="#333" stroke-width="0.9"/>
<line x1="797.15" y1="199.06" x2="802.27" y2="193.94" stroke="#222" stroke-width="1.3"/>
<line x1="799.71" y1="192" x2="799.71" y2="201" stroke="#333" stroke-width="0.9"/>
<line x1="925.21" y1="199.06" x2="930.33" y2="193.94" stroke="#222" stroke-width="1.3"/>
<line x1="927.77" y1="192" x2="927.77" y2="201" stroke="#333" stroke-width="0.9"/>
<line x1="994.48" y1="199.06" x2="999.6" y2="193.94" stroke="#222" stroke-width="1.3"/>
<line x1="997.04" y1="192" x2="997.04" y2="201" stroke="#333" stroke-width="0.9"/>
<text transform="translate(432.12,194.7) scale(0.9,1)" font-size="12.5" text-anchor="middle" fill="#222">1 190</text>
<text transform="translate(530.78,194.7) scale(0.9,1)" font-size="12.5" text-anchor="middle" fill="#222">2 200</text>
<text transform="translate(614.02,194.7) scale(0.9,1)" font-size="12.5" text-anchor="middle" fill="#222">660</text>
<text transform="translate(697.26,194.7) scale(0.9,1)" font-size="12.5" text-anchor="middle" fill="#222">2 200</text>
<text transform="translate(780.5,194.7) scale(0.9,1)" font-size="12.5" text-anchor="middle" fill="#222">660</text>
<text transform="translate(863.74,194.7) scale(0.9,1)" font-size="12.5" text-anchor="middle" fill="#222">2 200</text>
<text transform="translate(962.41,194.7) scale(0.9,1)" font-size="12.5" text-anchor="middle" fill="#222">1 190</text>
<line x1="426" y1="247.7" x2="968.52" y2="247.7" stroke="#333" stroke-width="0.9"/>
<line x1="423.44" y1="250.26" x2="428.56" y2="245.14" stroke="#222" stroke-width="1.3"/>
<line x1="426" y1="243.2" x2="426" y2="252.2" stroke="#333" stroke-width="0.9"/>
<line x1="464.19" y1="250.26" x2="469.31" y2="245.14" stroke="#222" stroke-width="1.3"/>
<line x1="466.75" y1="243.2" x2="466.75" y2="252.2" stroke="#333" stroke-width="0.9"/>
<line x1="592.25" y1="250.26" x2="597.37" y2="245.14" stroke="#222" stroke-width="1.3"/>
<line x1="594.81" y1="243.2" x2="594.81" y2="252.2" stroke="#333" stroke-width="0.9"/>
<line x1="630.67" y1="250.26" x2="635.79" y2="245.14" stroke="#222" stroke-width="1.3"/>
<line x1="633.23" y1="243.2" x2="633.23" y2="252.2" stroke="#333" stroke-width="0.9"/>
<line x1="758.73" y1="250.26" x2="763.85" y2="245.14" stroke="#222" stroke-width="1.3"/>
<line x1="761.29" y1="243.2" x2="761.29" y2="252.2" stroke="#333" stroke-width="0.9"/>
<line x1="797.15" y1="250.26" x2="802.27" y2="245.14" stroke="#222" stroke-width="1.3"/>
<line x1="799.71" y1="243.2" x2="799.71" y2="252.2" stroke="#333" stroke-width="0.9"/>
<line x1="925.21" y1="250.26" x2="930.33" y2="245.14" stroke="#222" stroke-width="1.3"/>
<line x1="927.77" y1="243.2" x2="927.77" y2="252.2" stroke="#333" stroke-width="0.9"/>
<line x1="965.96" y1="250.26" x2="971.08" y2="245.14" stroke="#222" stroke-width="1.3"/>
<line x1="968.52" y1="243.2" x2="968.52" y2="252.2" stroke="#333" stroke-width="0.9"/>
<text transform="translate(446.38,245.9) scale(0.9,1)" font-size="12.5" text-anchor="middle" fill="#222">700</text>
<text transform="translate(530.78,245.9) scale(0.9,1)" font-size="12.5" text-anchor="middle" fill="#222">2 200</text>
<text transform="translate(614.02,245.9) scale(0.9,1)" font-size="12.5" text-anchor="middle" fill="#222">660</text>
<text transform="translate(697.26,245.9) scale(0.9,1)" font-size="12.5" text-anchor="middle" fill="#222">2 200</text>
<text transform="translate(780.5,245.9) scale(0.9,1)" font-size="12.5" text-anchor="middle" fill="#222">660</text>
<text transform="translate(863.74,245.9) scale(0.9,1)" font-size="12.5" text-anchor="middle" fill="#222">2 200</text>
<text transform="translate(948.15,245.9) scale(0.9,1)" font-size="12.5" text-anchor="middle" fill="#222">700</text>
<line x1="426" y1="261.5" x2="968.52" y2="261.5" stroke="#333" stroke-width="0.9"/>
<line x1="423.44" y1="264.06" x2="428.56" y2="258.94" stroke="#222" stroke-width="1.3"/>
<line x1="426" y1="257" x2="426" y2="266" stroke="#333" stroke-width="0.9"/>
<line x1="965.96" y1="264.06" x2="971.08" y2="258.94" stroke="#222" stroke-width="1.3"/>
<line x1="968.52" y1="257" x2="968.52" y2="266" stroke="#333" stroke-width="0.9"/>
<text transform="translate(697.26,259.7) scale(0.9,1)" font-size="12.5" text-anchor="middle" fill="#222">9 320</text>
<line x1="426" y1="465.4" x2="968.52" y2="465.4" stroke="#333" stroke-width="0.9"/>
<line x1="423.44" y1="467.96" x2="428.56" y2="462.84" stroke="#222" stroke-width="1.3"/>
<line x1="426" y1="460.9" x2="426" y2="469.9" stroke="#333" stroke-width="0.9"/>
<line x1="965.96" y1="467.96" x2="971.08" y2="462.84" stroke="#222" stroke-width="1.3"/>
<line x1="968.52" y1="460.9" x2="968.52" y2="469.9" stroke="#333" stroke-width="0.9"/>
<text transform="translate(697.26,463.6) scale(0.9,1)" font-size="12.5" text-anchor="middle" fill="#222">9 320</text>
<line x1="426" y1="478.5" x2="968.52" y2="478.5" stroke="#333" stroke-width="0.9"/>
<line x1="423.44" y1="481.06" x2="428.56" y2="475.94" stroke="#222" stroke-width="1.3"/>
<line x1="426" y1="474" x2="426" y2="483" stroke="#333" stroke-width="0.9"/>
<line x1="470.01" y1="481.06" x2="475.13" y2="475.94" stroke="#222" stroke-width="1.3"/>
<line x1="472.57" y1="474" x2="472.57" y2="483" stroke="#333" stroke-width="0.9"/>
<line x1="510.76" y1="481.06" x2="515.88" y2="475.94" stroke="#222" stroke-width="1.3"/>
<line x1="513.32" y1="474" x2="513.32" y2="483" stroke="#333" stroke-width="0.9"/>
<line x1="599.24" y1="481.06" x2="604.36" y2="475.94" stroke="#222" stroke-width="1.3"/>
<line x1="601.8" y1="474" x2="601.8" y2="483" stroke="#333" stroke-width="0.9"/>
<line x1="715.66" y1="481.06" x2="720.78" y2="475.94" stroke="#222" stroke-width="1.3"/>
<line x1="718.22" y1="474" x2="718.22" y2="483" stroke="#333" stroke-width="0.9"/>
<line x1="965.96" y1="481.06" x2="971.08" y2="475.94" stroke="#222" stroke-width="1.3"/>
<line x1="968.52" y1="474" x2="968.52" y2="483" stroke="#333" stroke-width="0.9"/>
<text transform="translate(449.29,476.7) scale(0.9,1)" font-size="12.5" text-anchor="middle" fill="#222">800</text>
<text transform="translate(492.94,476.7) scale(0.9,1)" font-size="12.5" text-anchor="middle" fill="#222">700</text>
<text transform="translate(557.56,476.7) scale(0.9,1)" font-size="12.5" text-anchor="middle" fill="#222">1 520</text>
<text transform="translate(660.01,476.7) scale(0.9,1)" font-size="12.5" text-anchor="middle" fill="#222">2 000</text>
<rect x="828.31" y="467.95" width="30.12" height="9.75" fill="#fff"/>
<text transform="translate(843.37,476.7) scale(0.9,1)" font-size="12.5" text-anchor="middle" fill="#222">4 300</text>
<line x1="441.2" y1="233" x2="441.2" y2="483.3" stroke="#333" stroke-width="0.9"/>
<line x1="438.64" y1="235.56" x2="443.76" y2="230.44" stroke="#222" stroke-width="1.3"/>
<line x1="436.7" y1="233" x2="445.7" y2="233" stroke="#333" stroke-width="0.9"/>
<line x1="438.64" y1="290.86" x2="443.76" y2="285.74" stroke="#222" stroke-width="1.3"/>
<line x1="436.7" y1="288.3" x2="445.7" y2="288.3" stroke="#333" stroke-width="0.9"/>
<line x1="438.64" y1="430.56" x2="443.76" y2="425.44" stroke="#222" stroke-width="1.3"/>
<line x1="436.7" y1="428" x2="445.7" y2="428" stroke="#333" stroke-width="0.9"/>
<line x1="438.64" y1="485.86" x2="443.76" y2="480.74" stroke="#222" stroke-width="1.3"/>
<line x1="436.7" y1="483.3" x2="445.7" y2="483.3" stroke="#333" stroke-width="0.9"/>
<text transform="translate(439.3,260.65) rotate(-90) scale(0.9,1)" font-size="12.5" text-anchor="middle" fill="#222">950</text>
<text transform="translate(439.3,358.15) rotate(-90) scale(0.9,1)" font-size="12.5" text-anchor="middle" fill="#222">2 400</text>
<text transform="translate(439.3,455.65) rotate(-90) scale(0.9,1)" font-size="12.5" text-anchor="middle" fill="#222">950</text>
<line x1="951.2" y1="233" x2="951.2" y2="483.3" stroke="#333" stroke-width="0.9"/>
<line x1="948.64" y1="235.56" x2="953.76" y2="230.44" stroke="#222" stroke-width="1.3"/>
<line x1="946.7" y1="233" x2="955.7" y2="233" stroke="#333" stroke-width="0.9"/>
<line x1="948.64" y1="485.86" x2="953.76" y2="480.74" stroke="#222" stroke-width="1.3"/>
<line x1="946.7" y1="483.3" x2="955.7" y2="483.3" stroke="#333" stroke-width="0.9"/>
<text transform="translate(949.3,358.15) rotate(-90) scale(0.9,1)" font-size="12.5" text-anchor="middle" fill="#222">4 300</text>
<line x1="967.7" y1="233" x2="967.7" y2="483.3" stroke="#333" stroke-width="0.9"/>
<line x1="965.14" y1="235.56" x2="970.26" y2="230.44" stroke="#222" stroke-width="1.3"/>
<line x1="963.2" y1="233" x2="972.2" y2="233" stroke="#333" stroke-width="0.9"/>
<line x1="965.14" y1="378.76" x2="970.26" y2="373.64" stroke="#222" stroke-width="1.3"/>
<line x1="963.2" y1="376.2" x2="972.2" y2="376.2" stroke="#333" stroke-width="0.9"/>
<line x1="965.14" y1="419.5" x2="970.26" y2="414.38" stroke="#222" stroke-width="1.3"/>
<line x1="963.2" y1="416.94" x2="972.2" y2="416.94" stroke="#333" stroke-width="0.9"/>
<line x1="965.14" y1="485.86" x2="970.26" y2="480.74" stroke="#222" stroke-width="1.3"/>
<line x1="963.2" y1="483.3" x2="972.2" y2="483.3" stroke="#333" stroke-width="0.9"/>
<rect x="-15.06" y="-8.75" width="30.12" height="9.75" fill="#fff" transform="translate(963.1,304.6) rotate(-90)"/>
<text transform="translate(963.1,304.6) rotate(-90) scale(0.9,1)" font-size="12.5" text-anchor="middle" fill="#222">2 460</text>
<text transform="translate(963.1,396.57) rotate(-90) scale(0.9,1)" font-size="12.5" text-anchor="middle" fill="#222">700</text>
<text transform="translate(963.1,450.12) rotate(-90) scale(0.9,1)" font-size="12.5" text-anchor="middle" fill="#222">1 140</text>
<line x1="426" y1="517.3" x2="968.52" y2="517.3" stroke="#333" stroke-width="0.9"/>
<line x1="423.44" y1="519.86" x2="428.56" y2="514.74" stroke="#222" stroke-width="1.3"/>
<line x1="426" y1="512.8" x2="426" y2="521.8" stroke="#333" stroke-width="0.9"/>
<line x1="470.01" y1="519.86" x2="475.13" y2="514.74" stroke="#222" stroke-width="1.3"/>
<line x1="472.57" y1="512.8" x2="472.57" y2="521.8" stroke="#333" stroke-width="0.9"/>
<line x1="510.76" y1="519.86" x2="515.88" y2="514.74" stroke="#222" stroke-width="1.3"/>
<line x1="513.32" y1="512.8" x2="513.32" y2="521.8" stroke="#333" stroke-width="0.9"/>
<line x1="557.33" y1="519.86" x2="562.45" y2="514.74" stroke="#222" stroke-width="1.3"/>
<line x1="559.89" y1="512.8" x2="559.89" y2="521.8" stroke="#333" stroke-width="0.9"/>
<line x1="564.31" y1="519.86" x2="569.43" y2="514.74" stroke="#222" stroke-width="1.3"/>
<line x1="566.87" y1="512.8" x2="566.87" y2="521.8" stroke="#333" stroke-width="0.9"/>
<line x1="599.24" y1="519.86" x2="604.36" y2="514.74" stroke="#222" stroke-width="1.3"/>
<line x1="601.8" y1="512.8" x2="601.8" y2="521.8" stroke="#333" stroke-width="0.9"/>
<line x1="715.66" y1="519.86" x2="720.78" y2="514.74" stroke="#222" stroke-width="1.3"/>
<line x1="718.22" y1="512.8" x2="718.22" y2="521.8" stroke="#333" stroke-width="0.9"/>
<line x1="965.96" y1="519.86" x2="971.08" y2="514.74" stroke="#222" stroke-width="1.3"/>
<line x1="968.52" y1="512.8" x2="968.52" y2="521.8" stroke="#333" stroke-width="0.9"/>
<text transform="translate(449.29,515.5) scale(0.9,1)" font-size="12.5" text-anchor="middle" fill="#222">800</text>
<text transform="translate(492.94,515.5) scale(0.9,1)" font-size="12.5" text-anchor="middle" fill="#222">700</text>
<text transform="translate(536.6,515.5) scale(0.9,1)" font-size="12.5" text-anchor="middle" fill="#222">800</text>
<text transform="translate(584.33,515.5) scale(0.9,1)" font-size="12.5" text-anchor="middle" fill="#222">600</text>
<text transform="translate(660.01,515.5) scale(0.9,1)" font-size="12.5" text-anchor="middle" fill="#222">2 000</text>
<text transform="translate(843.37,515.5) scale(0.9,1)" font-size="12.5" text-anchor="middle" fill="#222">4 300</text>
<line x1="426" y1="531.3" x2="559.89" y2="531.3" stroke="#333" stroke-width="0.9"/>
<line x1="423.44" y1="533.86" x2="428.56" y2="528.74" stroke="#222" stroke-width="1.3"/>
<line x1="426" y1="526.8" x2="426" y2="535.8" stroke="#333" stroke-width="0.9"/>
<line x1="557.33" y1="533.86" x2="562.45" y2="528.74" stroke="#222" stroke-width="1.3"/>
<line x1="559.89" y1="526.8" x2="559.89" y2="535.8" stroke="#333" stroke-width="0.9"/>
<text transform="translate(492.94,529.5) scale(0.9,1)" font-size="12.5" text-anchor="middle" fill="#222">2 300</text>
<line x1="566.87" y1="531.3" x2="968.52" y2="531.3" stroke="#333" stroke-width="0.9"/>
<line x1="564.31" y1="533.86" x2="569.43" y2="528.74" stroke="#222" stroke-width="1.3"/>
<line x1="566.87" y1="526.8" x2="566.87" y2="535.8" stroke="#333" stroke-width="0.9"/>
<line x1="965.96" y1="533.86" x2="971.08" y2="528.74" stroke="#222" stroke-width="1.3"/>
<line x1="968.52" y1="526.8" x2="968.52" y2="535.8" stroke="#333" stroke-width="0.9"/>
<text transform="translate(767.7,529.5) scale(0.9,1)" font-size="12.5" text-anchor="middle" fill="#222">6 900</text>
<line x1="566.87" y1="595.3" x2="968.52" y2="595.3" stroke="#333" stroke-width="0.9"/>
<line x1="564.31" y1="597.86" x2="569.43" y2="592.74" stroke="#222" stroke-width="1.3"/>
<line x1="566.87" y1="590.8" x2="566.87" y2="599.8" stroke="#333" stroke-width="0.9"/>
<line x1="965.96" y1="597.86" x2="971.08" y2="592.74" stroke="#222" stroke-width="1.3"/>
<line x1="968.52" y1="590.8" x2="968.52" y2="599.8" stroke="#333" stroke-width="0.9"/>
<text transform="translate(768,593.5) scale(0.9,1)" font-size="12.5" text-anchor="middle" fill="#222">6 900</text>
<line x1="566.87" y1="607.6" x2="968.52" y2="607.6" stroke="#333" stroke-width="0.9"/>
<line x1="564.31" y1="610.16" x2="569.43" y2="605.04" stroke="#222" stroke-width="1.3"/>
<line x1="566.87" y1="603.1" x2="566.87" y2="612.1" stroke="#333" stroke-width="0.9"/>
<line x1="575.95" y1="610.16" x2="581.07" y2="605.04" stroke="#222" stroke-width="1.3"/>
<line x1="578.51" y1="603.1" x2="578.51" y2="612.1" stroke="#333" stroke-width="0.9"/>
<line x1="628.34" y1="610.16" x2="633.46" y2="605.04" stroke="#222" stroke-width="1.3"/>
<line x1="630.9" y1="603.1" x2="630.9" y2="612.1" stroke="#333" stroke-width="0.9"/>
<line x1="693.54" y1="610.16" x2="698.66" y2="605.04" stroke="#222" stroke-width="1.3"/>
<line x1="696.1" y1="603.1" x2="696.1" y2="612.1" stroke="#333" stroke-width="0.9"/>
<line x1="740.11" y1="610.16" x2="745.23" y2="605.04" stroke="#222" stroke-width="1.3"/>
<line x1="742.67" y1="603.1" x2="742.67" y2="612.1" stroke="#333" stroke-width="0.9"/>
<line x1="793.66" y1="610.16" x2="798.78" y2="605.04" stroke="#222" stroke-width="1.3"/>
<line x1="796.22" y1="603.1" x2="796.22" y2="612.1" stroke="#333" stroke-width="0.9"/>
<line x1="834.41" y1="610.16" x2="839.53" y2="605.04" stroke="#222" stroke-width="1.3"/>
<line x1="836.97" y1="603.1" x2="836.97" y2="612.1" stroke="#333" stroke-width="0.9"/>
<line x1="965.96" y1="610.16" x2="971.08" y2="605.04" stroke="#222" stroke-width="1.3"/>
<line x1="968.52" y1="603.1" x2="968.52" y2="612.1" stroke="#333" stroke-width="0.9"/>
<rect x="546.56" y="597.05" width="18.88" height="9.75" fill="#fff"/>
<text transform="translate(556,605.8) scale(0.9,1)" font-size="12.5" text-anchor="middle" fill="#222">200</text>
<text transform="translate(604.71,605.8) scale(0.9,1)" font-size="12.5" text-anchor="middle" fill="#222">900</text>
<text transform="translate(663.5,605.8) scale(0.9,1)" font-size="12.5" text-anchor="middle" fill="#222">1 120</text>
<text transform="translate(719.38,605.8) scale(0.9,1)" font-size="12.5" text-anchor="middle" fill="#222">800</text>
<text transform="translate(769.44,605.8) scale(0.9,1)" font-size="12.5" text-anchor="middle" fill="#222">920</text>
<text transform="translate(816.59,605.8) scale(0.9,1)" font-size="12.5" text-anchor="middle" fill="#222">700</text>
<text transform="translate(902.74,605.8) scale(0.9,1)" font-size="12.5" text-anchor="middle" fill="#222">2 260</text>
<line x1="440.5" y1="505.42" x2="440.5" y2="610.2" stroke="#333" stroke-width="0.9"/>
<line x1="437.94" y1="507.98" x2="443.06" y2="502.86" stroke="#222" stroke-width="1.3"/>
<line x1="436" y1="505.42" x2="445" y2="505.42" stroke="#333" stroke-width="0.9"/>
<line x1="437.94" y1="534.18" x2="443.06" y2="529.06" stroke="#222" stroke-width="1.3"/>
<line x1="436" y1="531.62" x2="445" y2="531.62" stroke="#333" stroke-width="0.9"/>
<line x1="437.94" y1="586.57" x2="443.06" y2="581.45" stroke="#222" stroke-width="1.3"/>
<line x1="436" y1="584.01" x2="445" y2="584.01" stroke="#333" stroke-width="0.9"/>
<line x1="437.94" y1="612.76" x2="443.06" y2="607.64" stroke="#222" stroke-width="1.3"/>
<line x1="436" y1="610.2" x2="445" y2="610.2" stroke="#333" stroke-width="0.9"/>
<text transform="translate(438.6,518.52) rotate(-90) scale(0.9,1)" font-size="12.5" text-anchor="middle" fill="#222">450</text>
<text transform="translate(438.6,557.81) rotate(-90) scale(0.9,1)" font-size="12.5" text-anchor="middle" fill="#222">900</text>
<text transform="translate(438.6,597.1) rotate(-90) scale(0.9,1)" font-size="12.5" text-anchor="middle" fill="#222">450</text>
<line x1="460.8" y1="505.42" x2="460.8" y2="610.2" stroke="#333" stroke-width="0.9"/>
<line x1="458.24" y1="507.98" x2="463.36" y2="502.86" stroke="#222" stroke-width="1.3"/>
<line x1="456.3" y1="505.42" x2="465.3" y2="505.42" stroke="#333" stroke-width="0.9"/>
<line x1="458.24" y1="612.76" x2="463.36" y2="607.64" stroke="#222" stroke-width="1.3"/>
<line x1="456.3" y1="610.2" x2="465.3" y2="610.2" stroke="#333" stroke-width="0.9"/>
<rect x="-12.25" y="-8.75" width="24.5" height="9.75" fill="#fff" transform="translate(459.8,557) rotate(-90)"/>
<text transform="translate(459.8,557) rotate(-90) scale(0.9,1)" font-size="12.5" text-anchor="middle" fill="#222">1800</text>
<line x1="967.7" y1="505.42" x2="967.7" y2="610.2" stroke="#333" stroke-width="0.9"/>
<line x1="965.14" y1="507.98" x2="970.26" y2="502.86" stroke="#222" stroke-width="1.3"/>
<line x1="963.2" y1="505.42" x2="972.2" y2="505.42" stroke="#333" stroke-width="0.9"/>
<line x1="965.14" y1="612.76" x2="970.26" y2="607.64" stroke="#222" stroke-width="1.3"/>
<line x1="963.2" y1="610.2" x2="972.2" y2="610.2" stroke="#333" stroke-width="0.9"/>
<text transform="translate(964.3,557.81) rotate(-90) scale(0.9,1)" font-size="12.5" text-anchor="middle" fill="#222">1 800</text>
<line x1="426" y1="631.4" x2="550.57" y2="631.4" stroke="#333" stroke-width="0.9"/>
<line x1="423.44" y1="633.96" x2="428.56" y2="628.84" stroke="#222" stroke-width="1.3"/>
<line x1="426" y1="626.9" x2="426" y2="635.9" stroke="#333" stroke-width="0.9"/>
<line x1="548.01" y1="633.96" x2="553.13" y2="628.84" stroke="#222" stroke-width="1.3"/>
<line x1="550.57" y1="626.9" x2="550.57" y2="635.9" stroke="#333" stroke-width="0.9"/>
<text transform="translate(488.29,629.6) scale(0.9,1)" font-size="12.5" text-anchor="middle" fill="#222">2 140</text>
<line x1="572.69" y1="631.4" x2="671.65" y2="631.4" stroke="#333" stroke-width="0.9"/>
<line x1="570.13" y1="633.96" x2="575.25" y2="628.84" stroke="#222" stroke-width="1.3"/>
<line x1="572.69" y1="626.9" x2="572.69" y2="635.9" stroke="#333" stroke-width="0.9"/>
<line x1="575.95" y1="633.96" x2="581.07" y2="628.84" stroke="#222" stroke-width="1.3"/>
<line x1="578.51" y1="626.9" x2="578.51" y2="635.9" stroke="#333" stroke-width="0.9"/>
<line x1="628.34" y1="633.96" x2="633.46" y2="628.84" stroke="#222" stroke-width="1.3"/>
<line x1="630.9" y1="626.9" x2="630.9" y2="635.9" stroke="#333" stroke-width="0.9"/>
<line x1="669.09" y1="633.96" x2="674.21" y2="628.84" stroke="#222" stroke-width="1.3"/>
<line x1="671.65" y1="626.9" x2="671.65" y2="635.9" stroke="#333" stroke-width="0.9"/>
<text transform="translate(604.71,629.6) scale(0.9,1)" font-size="12.5" text-anchor="middle" fill="#222">900</text>
<text transform="translate(651.28,629.6) scale(0.9,1)" font-size="12.5" text-anchor="middle" fill="#222">700</text>
<line x1="678.63" y1="631.4" x2="783.41" y2="631.4" stroke="#333" stroke-width="0.9"/>
<line x1="676.07" y1="633.96" x2="681.19" y2="628.84" stroke="#222" stroke-width="1.3"/>
<line x1="678.63" y1="626.9" x2="678.63" y2="635.9" stroke="#333" stroke-width="0.9"/>
<line x1="693.54" y1="633.96" x2="698.66" y2="628.84" stroke="#222" stroke-width="1.3"/>
<line x1="696.1" y1="626.9" x2="696.1" y2="635.9" stroke="#333" stroke-width="0.9"/>
<line x1="740.11" y1="633.96" x2="745.23" y2="628.84" stroke="#222" stroke-width="1.3"/>
<line x1="742.67" y1="626.9" x2="742.67" y2="635.9" stroke="#333" stroke-width="0.9"/>
<line x1="780.85" y1="633.96" x2="785.97" y2="628.84" stroke="#222" stroke-width="1.3"/>
<line x1="783.41" y1="626.9" x2="783.41" y2="635.9" stroke="#333" stroke-width="0.9"/>
<text transform="translate(687.37,629.6) scale(0.9,1)" font-size="12.5" text-anchor="middle" fill="#222">300</text>
<text transform="translate(719.38,629.6) scale(0.9,1)" font-size="12.5" text-anchor="middle" fill="#222">800</text>
<text transform="translate(763.04,629.6) scale(0.9,1)" font-size="12.5" text-anchor="middle" fill="#222">700</text>
<line x1="790.4" y1="631.4" x2="968.52" y2="631.4" stroke="#333" stroke-width="0.9"/>
<line x1="787.84" y1="633.96" x2="792.96" y2="628.84" stroke="#222" stroke-width="1.3"/>
<line x1="790.4" y1="626.9" x2="790.4" y2="635.9" stroke="#333" stroke-width="0.9"/>
<line x1="793.66" y1="633.96" x2="798.78" y2="628.84" stroke="#222" stroke-width="1.3"/>
<line x1="796.22" y1="626.9" x2="796.22" y2="635.9" stroke="#333" stroke-width="0.9"/>
<line x1="834.41" y1="633.96" x2="839.53" y2="628.84" stroke="#222" stroke-width="1.3"/>
<line x1="836.97" y1="626.9" x2="836.97" y2="635.9" stroke="#333" stroke-width="0.9"/>
<line x1="965.96" y1="633.96" x2="971.08" y2="628.84" stroke="#222" stroke-width="1.3"/>
<line x1="968.52" y1="626.9" x2="968.52" y2="635.9" stroke="#333" stroke-width="0.9"/>
<text transform="translate(816.59,629.6) scale(0.9,1)" font-size="12.5" text-anchor="middle" fill="#222">700</text>
<text transform="translate(902.74,629.6) scale(0.9,1)" font-size="12.5" text-anchor="middle" fill="#222">2 260</text>
<text transform="translate(597,643.5) scale(0.9,1)" font-size="12.5" text-anchor="middle" fill="#222">100</text>
<text transform="translate(810,643.5) scale(0.9,1)" font-size="12.5" text-anchor="middle" fill="#222">100</text>
<line x1="426" y1="744" x2="550.57" y2="744" stroke="#333" stroke-width="0.9"/>
<line x1="423.44" y1="746.56" x2="428.56" y2="741.44" stroke="#222" stroke-width="1.3"/>
<line x1="426" y1="739.5" x2="426" y2="748.5" stroke="#333" stroke-width="0.9"/>
<line x1="548.01" y1="746.56" x2="553.13" y2="741.44" stroke="#222" stroke-width="1.3"/>
<line x1="550.57" y1="739.5" x2="550.57" y2="748.5" stroke="#333" stroke-width="0.9"/>
<text transform="translate(488.29,742.2) scale(0.9,1)" font-size="12.5" text-anchor="middle" fill="#222">2 140</text>
<line x1="572.69" y1="744" x2="671.65" y2="744" stroke="#333" stroke-width="0.9"/>
<line x1="570.13" y1="746.56" x2="575.25" y2="741.44" stroke="#222" stroke-width="1.3"/>
<line x1="572.69" y1="739.5" x2="572.69" y2="748.5" stroke="#333" stroke-width="0.9"/>
<line x1="669.09" y1="746.56" x2="674.21" y2="741.44" stroke="#222" stroke-width="1.3"/>
<line x1="671.65" y1="739.5" x2="671.65" y2="748.5" stroke="#333" stroke-width="0.9"/>
<text transform="translate(622.17,742.2) scale(0.9,1)" font-size="12.5" text-anchor="middle" fill="#222">1 700</text>
<line x1="790.4" y1="743" x2="968.52" y2="743" stroke="#333" stroke-width="0.9"/>
<line x1="787.84" y1="745.56" x2="792.96" y2="740.44" stroke="#222" stroke-width="1.3"/>
<line x1="790.4" y1="738.5" x2="790.4" y2="747.5" stroke="#333" stroke-width="0.9"/>
<line x1="965.96" y1="745.56" x2="971.08" y2="740.44" stroke="#222" stroke-width="1.3"/>
<line x1="968.52" y1="738.5" x2="968.52" y2="747.5" stroke="#333" stroke-width="0.9"/>
<text transform="translate(879.46,741.2) scale(0.9,1)" font-size="12.5" text-anchor="middle" fill="#222">3 060</text>
<line x1="426" y1="757.6" x2="550.57" y2="757.6" stroke="#333" stroke-width="0.9"/>
<line x1="423.44" y1="760.16" x2="428.56" y2="755.04" stroke="#222" stroke-width="1.3"/>
<line x1="426" y1="753.1" x2="426" y2="762.1" stroke="#333" stroke-width="0.9"/>
<line x1="488.64" y1="760.16" x2="493.76" y2="755.04" stroke="#222" stroke-width="1.3"/>
<line x1="491.2" y1="753.1" x2="491.2" y2="762.1" stroke="#333" stroke-width="0.9"/>
<line x1="529.39" y1="760.16" x2="534.51" y2="755.04" stroke="#222" stroke-width="1.3"/>
<line x1="531.95" y1="753.1" x2="531.95" y2="762.1" stroke="#333" stroke-width="0.9"/>
<line x1="548.01" y1="760.16" x2="553.13" y2="755.04" stroke="#222" stroke-width="1.3"/>
<line x1="550.57" y1="753.1" x2="550.57" y2="762.1" stroke="#333" stroke-width="0.9"/>
<text transform="translate(458.6,755.8) scale(0.9,1)" font-size="12.5" text-anchor="middle" fill="#222">1 120</text>
<text transform="translate(511.57,755.8) scale(0.9,1)" font-size="12.5" text-anchor="middle" fill="#222">700</text>
<text transform="translate(541.26,755.8) scale(0.9,1)" font-size="12.5" text-anchor="middle" fill="#222">320</text>
<line x1="572.69" y1="757.6" x2="671.65" y2="757.6" stroke="#333" stroke-width="0.9"/>
<line x1="570.13" y1="760.16" x2="575.25" y2="755.04" stroke="#222" stroke-width="1.3"/>
<line x1="572.69" y1="753.1" x2="572.69" y2="762.1" stroke="#333" stroke-width="0.9"/>
<line x1="581.77" y1="760.16" x2="586.89" y2="755.04" stroke="#222" stroke-width="1.3"/>
<line x1="584.33" y1="753.1" x2="584.33" y2="762.1" stroke="#333" stroke-width="0.9"/>
<line x1="634.16" y1="760.16" x2="639.28" y2="755.04" stroke="#222" stroke-width="1.3"/>
<line x1="636.72" y1="753.1" x2="636.72" y2="762.1" stroke="#333" stroke-width="0.9"/>
<line x1="669.09" y1="760.16" x2="674.21" y2="755.04" stroke="#222" stroke-width="1.3"/>
<line x1="671.65" y1="753.1" x2="671.65" y2="762.1" stroke="#333" stroke-width="0.9"/>
<text transform="translate(578.51,755.8) scale(0.9,1)" font-size="12.5" text-anchor="middle" fill="#222">200</text>
<text transform="translate(610.53,755.8) scale(0.9,1)" font-size="12.5" text-anchor="middle" fill="#222">900</text>
<text transform="translate(654.19,755.8) scale(0.9,1)" font-size="12.5" text-anchor="middle" fill="#222">600</text>
<line x1="678.63" y1="757.6" x2="783.41" y2="757.6" stroke="#333" stroke-width="0.9"/>
<line x1="676.07" y1="760.16" x2="681.19" y2="755.04" stroke="#222" stroke-width="1.3"/>
<line x1="678.63" y1="753.1" x2="678.63" y2="762.1" stroke="#333" stroke-width="0.9"/>
<line x1="780.85" y1="760.16" x2="785.97" y2="755.04" stroke="#222" stroke-width="1.3"/>
<line x1="783.41" y1="753.1" x2="783.41" y2="762.1" stroke="#333" stroke-width="0.9"/>
<text transform="translate(731.02,755.8) scale(0.9,1)" font-size="12.5" text-anchor="middle" fill="#222">1 800</text>
<line x1="790.4" y1="757.6" x2="968.52" y2="757.6" stroke="#333" stroke-width="0.9"/>
<line x1="787.84" y1="760.16" x2="792.96" y2="755.04" stroke="#222" stroke-width="1.3"/>
<line x1="790.4" y1="753.1" x2="790.4" y2="762.1" stroke="#333" stroke-width="0.9"/>
<line x1="878.65" y1="760.16" x2="883.77" y2="755.04" stroke="#222" stroke-width="1.3"/>
<line x1="881.21" y1="753.1" x2="881.21" y2="762.1" stroke="#333" stroke-width="0.9"/>
<line x1="965.96" y1="760.16" x2="971.08" y2="755.04" stroke="#222" stroke-width="1.3"/>
<line x1="968.52" y1="753.1" x2="968.52" y2="762.1" stroke="#333" stroke-width="0.9"/>
<text transform="translate(835.8,755.8) scale(0.9,1)" font-size="12.5" text-anchor="middle" fill="#222">1 560</text>
<text transform="translate(924.86,755.8) scale(0.9,1)" font-size="12.5" text-anchor="middle" fill="#222">1 500</text>
<line x1="532.3" y1="617.19" x2="532.3" y2="762.71" stroke="#333" stroke-width="0.9"/>
<line x1="529.74" y1="619.75" x2="534.86" y2="614.63" stroke="#222" stroke-width="1.3"/>
<line x1="527.8" y1="617.19" x2="536.8" y2="617.19" stroke="#333" stroke-width="0.9"/>
<line x1="529.74" y1="765.27" x2="534.86" y2="760.15" stroke="#222" stroke-width="1.3"/>
<line x1="527.8" y1="762.71" x2="536.8" y2="762.71" stroke="#333" stroke-width="0.9"/>
<text transform="translate(530.4,689.95) rotate(-90) scale(0.9,1)" font-size="12.5" text-anchor="middle" fill="#222">2 500</text>
<line x1="545" y1="617.19" x2="545" y2="762.71" stroke="#333" stroke-width="0.9"/>
<line x1="542.44" y1="619.75" x2="547.56" y2="614.63" stroke="#222" stroke-width="1.3"/>
<line x1="540.5" y1="617.19" x2="549.5" y2="617.19" stroke="#333" stroke-width="0.9"/>
<line x1="542.44" y1="677.96" x2="547.56" y2="672.84" stroke="#222" stroke-width="1.3"/>
<line x1="540.5" y1="675.4" x2="549.5" y2="675.4" stroke="#333" stroke-width="0.9"/>
<line x1="542.44" y1="730.34" x2="547.56" y2="725.23" stroke="#222" stroke-width="1.3"/>
<line x1="540.5" y1="727.78" x2="549.5" y2="727.78" stroke="#333" stroke-width="0.9"/>
<line x1="542.44" y1="765.27" x2="547.56" y2="760.15" stroke="#222" stroke-width="1.3"/>
<line x1="540.5" y1="762.71" x2="549.5" y2="762.71" stroke="#333" stroke-width="0.9"/>
<text transform="translate(543.1,646.29) rotate(-90) scale(0.9,1)" font-size="12.5" text-anchor="middle" fill="#222">1 000</text>
<text transform="translate(543.1,701.59) rotate(-90) scale(0.9,1)" font-size="12.5" text-anchor="middle" fill="#222">900</text>
<text transform="translate(543.1,737) rotate(-90) scale(0.9,1)" font-size="12.5" text-anchor="middle" fill="#222">600</text>
<line x1="441.3" y1="617.19" x2="441.3" y2="762.71" stroke="#333" stroke-width="0.9"/>
<line x1="438.74" y1="619.75" x2="443.86" y2="614.63" stroke="#222" stroke-width="1.3"/>
<line x1="436.8" y1="617.19" x2="445.8" y2="617.19" stroke="#333" stroke-width="0.9"/>
<line x1="438.74" y1="765.27" x2="443.86" y2="760.15" stroke="#222" stroke-width="1.3"/>
<line x1="436.8" y1="762.71" x2="445.8" y2="762.71" stroke="#333" stroke-width="0.9"/>
<text transform="translate(439.4,663) rotate(-90) scale(0.9,1)" font-size="12.5" text-anchor="middle" fill="#222">2 500</text>
<line x1="967.7" y1="617.19" x2="967.7" y2="762.71" stroke="#333" stroke-width="0.9"/>
<line x1="965.14" y1="619.75" x2="970.26" y2="614.63" stroke="#222" stroke-width="1.3"/>
<line x1="963.2" y1="617.19" x2="972.2" y2="617.19" stroke="#333" stroke-width="0.9"/>
<line x1="965.14" y1="701.24" x2="970.26" y2="696.12" stroke="#222" stroke-width="1.3"/>
<line x1="963.2" y1="698.68" x2="972.2" y2="698.68" stroke="#333" stroke-width="0.9"/>
<line x1="965.14" y1="765.27" x2="970.26" y2="760.15" stroke="#222" stroke-width="1.3"/>
<line x1="963.2" y1="762.71" x2="972.2" y2="762.71" stroke="#333" stroke-width="0.9"/>
<text transform="translate(964.3,657.93) rotate(-90) scale(0.9,1)" font-size="12.5" text-anchor="middle" fill="#222">1 400</text>
<text transform="translate(964.3,730.7) rotate(-90) scale(0.9,1)" font-size="12.5" text-anchor="middle" fill="#222">1 100</text>
<line x1="950.4" y1="617.19" x2="950.4" y2="762.71" stroke="#333" stroke-width="0.9"/>
<line x1="947.84" y1="619.75" x2="952.96" y2="614.63" stroke="#222" stroke-width="1.3"/>
<line x1="945.9" y1="617.19" x2="954.9" y2="617.19" stroke="#333" stroke-width="0.9"/>
<line x1="947.84" y1="765.27" x2="952.96" y2="760.15" stroke="#222" stroke-width="1.3"/>
<line x1="945.9" y1="762.71" x2="954.9" y2="762.71" stroke="#333" stroke-width="0.9"/>
<rect x="-15.06" y="-8.75" width="30.12" height="9.75" fill="#fff" transform="translate(948.5,688.5) rotate(-90)"/>
<text transform="translate(948.5,688.5) rotate(-90) scale(0.9,1)" font-size="12.5" text-anchor="middle" fill="#222">2 500</text>
<line x1="403.88" y1="805.6" x2="997.04" y2="805.6" stroke="#333" stroke-width="0.9"/>
<line x1="401.32" y1="808.16" x2="406.44" y2="803.04" stroke="#222" stroke-width="1.3"/>
<line x1="403.88" y1="801.1" x2="403.88" y2="810.1" stroke="#333" stroke-width="0.9"/>
<line x1="488.64" y1="808.16" x2="493.76" y2="803.04" stroke="#222" stroke-width="1.3"/>
<line x1="491.2" y1="801.1" x2="491.2" y2="810.1" stroke="#333" stroke-width="0.9"/>
<line x1="529.39" y1="808.16" x2="534.51" y2="803.04" stroke="#222" stroke-width="1.3"/>
<line x1="531.95" y1="801.1" x2="531.95" y2="810.1" stroke="#333" stroke-width="0.9"/>
<line x1="581.77" y1="808.16" x2="586.89" y2="803.04" stroke="#222" stroke-width="1.3"/>
<line x1="584.33" y1="801.1" x2="584.33" y2="810.1" stroke="#333" stroke-width="0.9"/>
<line x1="634.16" y1="808.16" x2="639.28" y2="803.04" stroke="#222" stroke-width="1.3"/>
<line x1="636.72" y1="801.1" x2="636.72" y2="810.1" stroke="#333" stroke-width="0.9"/>
<line x1="878.65" y1="808.16" x2="883.77" y2="803.04" stroke="#222" stroke-width="1.3"/>
<line x1="881.21" y1="801.1" x2="881.21" y2="810.1" stroke="#333" stroke-width="0.9"/>
<line x1="994.48" y1="808.16" x2="999.6" y2="803.04" stroke="#222" stroke-width="1.3"/>
<line x1="997.04" y1="801.1" x2="997.04" y2="810.1" stroke="#333" stroke-width="0.9"/>
<text transform="translate(447.54,803.8) scale(0.9,1)" font-size="12.5" text-anchor="middle" fill="#222">1 500</text>
<text transform="translate(511.57,803.8) scale(0.9,1)" font-size="12.5" text-anchor="middle" fill="#222">700</text>
<text transform="translate(558.14,803.8) scale(0.9,1)" font-size="12.5" text-anchor="middle" fill="#222">900</text>
<text transform="translate(610.53,803.8) scale(0.9,1)" font-size="12.5" text-anchor="middle" fill="#222">900</text>
<text transform="translate(758.96,803.8) scale(0.9,1)" font-size="12.5" text-anchor="middle" fill="#222">4 200</text>
<text transform="translate(939.12,803.8) scale(0.9,1)" font-size="12.5" text-anchor="middle" fill="#222">1 990</text>
<line x1="498.3" y1="791" x2="498.3" y2="878.3" stroke="#333" stroke-width="0.9"/>
<line x1="495.74" y1="793.56" x2="500.86" y2="788.44" stroke="#222" stroke-width="1.3"/>
<line x1="493.8" y1="791" x2="502.8" y2="791" stroke="#333" stroke-width="0.9"/>
<line x1="495.74" y1="845.86" x2="500.86" y2="840.74" stroke="#222" stroke-width="1.3"/>
<line x1="493.8" y1="843.3" x2="502.8" y2="843.3" stroke="#333" stroke-width="0.9"/>
<line x1="495.74" y1="880.86" x2="500.86" y2="875.74" stroke="#222" stroke-width="1.3"/>
<line x1="493.8" y1="878.3" x2="502.8" y2="878.3" stroke="#333" stroke-width="0.9"/>
<text transform="translate(496.4,817.15) rotate(-90) scale(0.9,1)" font-size="12.5" text-anchor="middle" fill="#222">800</text>
<text transform="translate(496.4,860.8) rotate(-90) scale(0.9,1)" font-size="12.5" text-anchor="middle" fill="#222">595</text>
<line x1="516.6" y1="791" x2="516.6" y2="878.3" stroke="#333" stroke-width="0.9"/>
<line x1="514.04" y1="793.56" x2="519.16" y2="788.44" stroke="#222" stroke-width="1.3"/>
<line x1="512.1" y1="791" x2="521.1" y2="791" stroke="#333" stroke-width="0.9"/>
<line x1="514.04" y1="880.86" x2="519.16" y2="875.74" stroke="#222" stroke-width="1.3"/>
<line x1="512.1" y1="878.3" x2="521.1" y2="878.3" stroke="#333" stroke-width="0.9"/>
<text transform="translate(514.7,834.65) rotate(-90) scale(0.9,1)" font-size="12.5" text-anchor="middle" fill="#222">1 500</text>
<text transform="translate(488.5,775) rotate(-90) scale(0.9,1)" font-size="12.5" text-anchor="middle" fill="#222">105</text>
<line x1="175.7" y1="829" x2="455.69" y2="829" stroke="#333" stroke-width="0.9"/>
<line x1="173.14" y1="831.56" x2="178.26" y2="826.44" stroke="#222" stroke-width="1.3"/>
<line x1="175.7" y1="824.5" x2="175.7" y2="833.5" stroke="#333" stroke-width="0.9"/>
<line x1="453.13" y1="831.56" x2="458.25" y2="826.44" stroke="#222" stroke-width="1.3"/>
<line x1="455.69" y1="824.5" x2="455.69" y2="833.5" stroke="#333" stroke-width="0.9"/>
<text transform="translate(315.7,827.2) scale(0.9,1)" font-size="12.5" text-anchor="middle" fill="#222">4 810</text>
<line x1="175.7" y1="841.9" x2="455.69" y2="841.9" stroke="#333" stroke-width="0.9"/>
<line x1="173.14" y1="844.46" x2="178.26" y2="839.34" stroke="#222" stroke-width="1.3"/>
<line x1="175.7" y1="837.4" x2="175.7" y2="846.4" stroke="#333" stroke-width="0.9"/>
<line x1="208.07" y1="844.46" x2="213.19" y2="839.34" stroke="#222" stroke-width="1.3"/>
<line x1="210.63" y1="837.4" x2="210.63" y2="846.4" stroke="#333" stroke-width="0.9"/>
<line x1="353.59" y1="844.46" x2="358.71" y2="839.34" stroke="#222" stroke-width="1.3"/>
<line x1="356.15" y1="837.4" x2="356.15" y2="846.4" stroke="#333" stroke-width="0.9"/>
<line x1="453.13" y1="844.46" x2="458.25" y2="839.34" stroke="#222" stroke-width="1.3"/>
<line x1="455.69" y1="837.4" x2="455.69" y2="846.4" stroke="#333" stroke-width="0.9"/>
<text transform="translate(193.16,840.1) scale(0.9,1)" font-size="12.5" text-anchor="middle" fill="#222">600</text>
<text transform="translate(283.39,840.1) scale(0.9,1)" font-size="12.5" text-anchor="middle" fill="#222">2 500</text>
<text transform="translate(405.92,840.1) scale(0.9,1)" font-size="12.5" text-anchor="middle" fill="#222">1 710</text>
<line x1="147.18" y1="891.2" x2="484.21" y2="891.2" stroke="#333" stroke-width="0.9"/>
<line x1="144.62" y1="893.76" x2="149.74" y2="888.64" stroke="#222" stroke-width="1.3"/>
<line x1="147.18" y1="886.7" x2="147.18" y2="895.7" stroke="#333" stroke-width="0.9"/>
<line x1="208.07" y1="893.76" x2="213.19" y2="888.64" stroke="#222" stroke-width="1.3"/>
<line x1="210.63" y1="886.7" x2="210.63" y2="895.7" stroke="#333" stroke-width="0.9"/>
<line x1="353.59" y1="893.76" x2="358.71" y2="888.64" stroke="#222" stroke-width="1.3"/>
<line x1="356.15" y1="886.7" x2="356.15" y2="895.7" stroke="#333" stroke-width="0.9"/>
<line x1="481.65" y1="893.76" x2="486.77" y2="888.64" stroke="#222" stroke-width="1.3"/>
<line x1="484.21" y1="886.7" x2="484.21" y2="895.7" stroke="#333" stroke-width="0.9"/>
<text transform="translate(178.9,889.4) scale(0.9,1)" font-size="12.5" text-anchor="middle" fill="#222">1 090</text>
<text transform="translate(283.39,889.4) scale(0.9,1)" font-size="12.5" text-anchor="middle" fill="#222">2 500</text>
<text transform="translate(420.18,889.4) scale(0.9,1)" font-size="12.5" text-anchor="middle" fill="#222">2 200</text>
<line x1="147.18" y1="906" x2="484.21" y2="906" stroke="#333" stroke-width="0.9"/>
<line x1="144.62" y1="908.56" x2="149.74" y2="903.44" stroke="#222" stroke-width="1.3"/>
<line x1="147.18" y1="901.5" x2="147.18" y2="910.5" stroke="#333" stroke-width="0.9"/>
<line x1="481.65" y1="908.56" x2="486.77" y2="903.44" stroke="#222" stroke-width="1.3"/>
<line x1="484.21" y1="901.5" x2="484.21" y2="910.5" stroke="#333" stroke-width="0.9"/>
<text transform="translate(315.7,904.2) scale(0.9,1)" font-size="12.5" text-anchor="middle" fill="#222">5 790</text>
<line x1="175.7" y1="921.1" x2="968.52" y2="921.1" stroke="#333" stroke-width="0.9"/>
<line x1="173.14" y1="923.66" x2="178.26" y2="918.54" stroke="#222" stroke-width="1.3"/>
<line x1="175.7" y1="916.6" x2="175.7" y2="925.6" stroke="#333" stroke-width="0.9"/>
<line x1="423.44" y1="923.66" x2="428.56" y2="918.54" stroke="#222" stroke-width="1.3"/>
<line x1="426" y1="916.6" x2="426" y2="925.6" stroke="#333" stroke-width="0.9"/>
<line x1="453.13" y1="923.66" x2="458.25" y2="918.54" stroke="#222" stroke-width="1.3"/>
<line x1="455.69" y1="916.6" x2="455.69" y2="925.6" stroke="#333" stroke-width="0.9"/>
<line x1="965.96" y1="923.66" x2="971.08" y2="918.54" stroke="#222" stroke-width="1.3"/>
<line x1="968.52" y1="916.6" x2="968.52" y2="925.6" stroke="#333" stroke-width="0.9"/>
<text transform="translate(300.85,919.3) scale(0.9,1)" font-size="12.5" text-anchor="middle" fill="#222">4 300</text>
<text transform="translate(440.85,919.3) scale(0.9,1)" font-size="12.5" text-anchor="middle" fill="#222">510</text>
<text transform="translate(712.11,919.3) scale(0.9,1)" font-size="12.5" text-anchor="middle" fill="#222">8 810</text>
<line x1="175.7" y1="934.6" x2="968.52" y2="934.6" stroke="#333" stroke-width="0.9"/>
<line x1="173.14" y1="937.16" x2="178.26" y2="932.04" stroke="#222" stroke-width="1.3"/>
<line x1="175.7" y1="930.1" x2="175.7" y2="939.1" stroke="#333" stroke-width="0.9"/>
<line x1="965.96" y1="937.16" x2="971.08" y2="932.04" stroke="#222" stroke-width="1.3"/>
<line x1="968.52" y1="930.1" x2="968.52" y2="939.1" stroke="#333" stroke-width="0.9"/>
<text transform="translate(572.11,932.8) scale(0.9,1)" font-size="12.5" text-anchor="middle" fill="#222">13 620</text>
<line x1="147.18" y1="458.4" x2="397.48" y2="458.4" stroke="#333" stroke-width="0.9"/>
<line x1="144.62" y1="460.96" x2="149.74" y2="455.84" stroke="#222" stroke-width="1.3"/>
<line x1="147.18" y1="453.9" x2="147.18" y2="462.9" stroke="#333" stroke-width="0.9"/>
<line x1="394.92" y1="460.96" x2="400.04" y2="455.84" stroke="#222" stroke-width="1.3"/>
<line x1="397.48" y1="453.9" x2="397.48" y2="462.9" stroke="#333" stroke-width="0.9"/>
<text transform="translate(272.33,456.6) scale(0.9,1)" font-size="12.5" text-anchor="middle" fill="#222">4 300</text>
<line x1="147.18" y1="473" x2="397.48" y2="473" stroke="#333" stroke-width="0.9"/>
<line x1="144.62" y1="475.56" x2="149.74" y2="470.44" stroke="#222" stroke-width="1.3"/>
<line x1="147.18" y1="468.5" x2="147.18" y2="477.5" stroke="#333" stroke-width="0.9"/>
<line x1="220" y1="475.56" x2="225.12" y2="470.44" stroke="#222" stroke-width="1.3"/>
<line x1="222.56" y1="468.5" x2="222.56" y2="477.5" stroke="#333" stroke-width="0.9"/>
<line x1="348.06" y1="475.56" x2="353.18" y2="470.44" stroke="#222" stroke-width="1.3"/>
<line x1="350.62" y1="468.5" x2="350.62" y2="477.5" stroke="#333" stroke-width="0.9"/>
<line x1="394.92" y1="475.56" x2="400.04" y2="470.44" stroke="#222" stroke-width="1.3"/>
<line x1="397.48" y1="468.5" x2="397.48" y2="477.5" stroke="#333" stroke-width="0.9"/>
<text transform="translate(184.87,471.2) scale(0.9,1)" font-size="12.5" text-anchor="middle" fill="#222">1 295</text>
<text transform="translate(286.59,471.2) scale(0.9,1)" font-size="12.5" text-anchor="middle" fill="#222">2 200</text>
<text transform="translate(363.4,471.2) scale(0.9,1)" font-size="12.5" text-anchor="middle" fill="#222">805</text>
<line x1="175.7" y1="517.3" x2="403.88" y2="517.3" stroke="#333" stroke-width="0.9"/>
<line x1="173.14" y1="519.86" x2="178.26" y2="514.74" stroke="#222" stroke-width="1.3"/>
<line x1="175.7" y1="512.8" x2="175.7" y2="521.8" stroke="#333" stroke-width="0.9"/>
<line x1="220" y1="519.86" x2="225.12" y2="514.74" stroke="#222" stroke-width="1.3"/>
<line x1="222.56" y1="512.8" x2="222.56" y2="521.8" stroke="#333" stroke-width="0.9"/>
<line x1="348.06" y1="519.86" x2="353.18" y2="514.74" stroke="#222" stroke-width="1.3"/>
<line x1="350.62" y1="512.8" x2="350.62" y2="521.8" stroke="#333" stroke-width="0.9"/>
<line x1="401.32" y1="519.86" x2="406.44" y2="514.74" stroke="#222" stroke-width="1.3"/>
<line x1="403.88" y1="512.8" x2="403.88" y2="521.8" stroke="#333" stroke-width="0.9"/>
<text transform="translate(199.13,515.5) scale(0.9,1)" font-size="12.5" text-anchor="middle" fill="#222">805</text>
<text transform="translate(286.59,515.5) scale(0.9,1)" font-size="12.5" text-anchor="middle" fill="#222">2 200</text>
<text transform="translate(367.5,515.5) scale(0.9,1)" font-size="12.5" text-anchor="middle" fill="#222">915</text>
<line x1="175.7" y1="537" x2="403.88" y2="537" stroke="#333" stroke-width="0.9"/>
<line x1="173.14" y1="539.56" x2="178.26" y2="534.44" stroke="#222" stroke-width="1.3"/>
<line x1="175.7" y1="532.5" x2="175.7" y2="541.5" stroke="#333" stroke-width="0.9"/>
<line x1="401.32" y1="539.56" x2="406.44" y2="534.44" stroke="#222" stroke-width="1.3"/>
<line x1="403.88" y1="532.5" x2="403.88" y2="541.5" stroke="#333" stroke-width="0.9"/>
<text transform="translate(289.79,535.2) scale(0.9,1)" font-size="12.5" text-anchor="middle" fill="#222">3 920</text>
<line x1="110" y1="233" x2="110" y2="850.03" stroke="#333" stroke-width="0.9"/>
<line x1="107.44" y1="235.56" x2="112.56" y2="230.44" stroke="#222" stroke-width="1.3"/>
<line x1="105.5" y1="233" x2="114.5" y2="233" stroke="#333" stroke-width="0.9"/>
<line x1="107.44" y1="852.59" x2="112.56" y2="847.47" stroke="#222" stroke-width="1.3"/>
<line x1="105.5" y1="850.03" x2="114.5" y2="850.03" stroke="#333" stroke-width="0.9"/>
<text transform="translate(108.1,541.51) rotate(-90) scale(0.9,1)" font-size="12.5" text-anchor="middle" fill="#222">10 600</text>
<line x1="126" y1="233" x2="126" y2="850.03" stroke="#333" stroke-width="0.9"/>
<line x1="123.44" y1="235.56" x2="128.56" y2="230.44" stroke="#222" stroke-width="1.3"/>
<line x1="121.5" y1="233" x2="130.5" y2="233" stroke="#333" stroke-width="0.9"/>
<line x1="123.44" y1="507.98" x2="128.56" y2="502.86" stroke="#222" stroke-width="1.3"/>
<line x1="121.5" y1="505.42" x2="130.5" y2="505.42" stroke="#333" stroke-width="0.9"/>
<line x1="123.44" y1="765.27" x2="128.56" y2="760.15" stroke="#222" stroke-width="1.3"/>
<line x1="121.5" y1="762.71" x2="130.5" y2="762.71" stroke="#333" stroke-width="0.9"/>
<line x1="123.44" y1="852.59" x2="128.56" y2="847.47" stroke="#222" stroke-width="1.3"/>
<line x1="121.5" y1="850.03" x2="130.5" y2="850.03" stroke="#333" stroke-width="0.9"/>
<text transform="translate(124.1,369.21) rotate(-90) scale(0.9,1)" font-size="12.5" text-anchor="middle" fill="#222">4 680</text>
<text transform="translate(124.1,634.07) rotate(-90) scale(0.9,1)" font-size="12.5" text-anchor="middle" fill="#222">4 420</text>
<text transform="translate(124.1,806.37) rotate(-90) scale(0.9,1)" font-size="12.5" text-anchor="middle" fill="#222">1500</text>
<line x1="141.7" y1="476.9" x2="141.7" y2="878.55" stroke="#333" stroke-width="0.9"/>
<line x1="139.14" y1="479.46" x2="144.26" y2="474.34" stroke="#222" stroke-width="1.3"/>
<line x1="137.2" y1="476.9" x2="146.2" y2="476.9" stroke="#333" stroke-width="0.9"/>
<line x1="139.14" y1="881.11" x2="144.26" y2="875.99" stroke="#222" stroke-width="1.3"/>
<line x1="137.2" y1="878.55" x2="146.2" y2="878.55" stroke="#333" stroke-width="0.9"/>
<text transform="translate(139.8,677.72) rotate(-90) scale(0.9,1)" font-size="12.5" text-anchor="middle" fill="#222">6 900</text>
<line x1="194.3" y1="505.42" x2="194.3" y2="850.03" stroke="#333" stroke-width="0.9"/>
<line x1="191.74" y1="507.98" x2="196.86" y2="502.86" stroke="#222" stroke-width="1.3"/>
<line x1="189.8" y1="505.42" x2="198.8" y2="505.42" stroke="#333" stroke-width="0.9"/>
<line x1="191.74" y1="852.59" x2="196.86" y2="847.47" stroke="#222" stroke-width="1.3"/>
<line x1="189.8" y1="850.03" x2="198.8" y2="850.03" stroke="#333" stroke-width="0.9"/>
<text transform="translate(192.4,677.72) rotate(-90) scale(0.9,1)" font-size="12.5" text-anchor="middle" fill="#222">5 920</text>
<line x1="378.3" y1="204.48" x2="378.3" y2="784.83" stroke="#333" stroke-width="0.9"/>
<line x1="375.74" y1="207.04" x2="380.86" y2="201.92" stroke="#222" stroke-width="1.3"/>
<line x1="373.8" y1="204.48" x2="382.8" y2="204.48" stroke="#333" stroke-width="0.9"/>
<line x1="375.74" y1="787.39" x2="380.86" y2="782.27" stroke="#222" stroke-width="1.3"/>
<line x1="373.8" y1="784.83" x2="382.8" y2="784.83" stroke="#333" stroke-width="0.9"/>
<text transform="translate(376.4,545.4) rotate(-90) scale(0.9,1)" font-size="12.5" text-anchor="middle" fill="#222">9 970</text>
<line x1="393.2" y1="204.48" x2="393.2" y2="476.9" stroke="#333" stroke-width="0.9"/>
<line x1="390.64" y1="207.04" x2="395.76" y2="201.92" stroke="#222" stroke-width="1.3"/>
<line x1="388.7" y1="204.48" x2="397.7" y2="204.48" stroke="#333" stroke-width="0.9"/>
<line x1="390.64" y1="290.86" x2="395.76" y2="285.74" stroke="#222" stroke-width="1.3"/>
<line x1="388.7" y1="288.3" x2="397.7" y2="288.3" stroke="#333" stroke-width="0.9"/>
<line x1="390.64" y1="430.56" x2="395.76" y2="425.44" stroke="#222" stroke-width="1.3"/>
<line x1="388.7" y1="428" x2="397.7" y2="428" stroke="#333" stroke-width="0.9"/>
<line x1="390.64" y1="479.46" x2="395.76" y2="474.34" stroke="#222" stroke-width="1.3"/>
<line x1="388.7" y1="476.9" x2="397.7" y2="476.9" stroke="#333" stroke-width="0.9"/>
<text transform="translate(391.3,246.39) rotate(-90) scale(0.9,1)" font-size="12.5" text-anchor="middle" fill="#222">1 440</text>
<text transform="translate(391.3,358.15) rotate(-90) scale(0.9,1)" font-size="12.5" text-anchor="middle" fill="#222">2 400</text>
<text transform="translate(391.3,452.45) rotate(-90) scale(0.9,1)" font-size="12.5" text-anchor="middle" fill="#222">840</text>
<line x1="393.4" y1="505.42" x2="393.4" y2="784.83" stroke="#333" stroke-width="0.9"/>
<line x1="390.84" y1="507.98" x2="395.96" y2="502.86" stroke="#222" stroke-width="1.3"/>
<line x1="388.9" y1="505.42" x2="397.9" y2="505.42" stroke="#333" stroke-width="0.9"/>
<line x1="390.84" y1="534.18" x2="395.96" y2="529.06" stroke="#222" stroke-width="1.3"/>
<line x1="388.9" y1="531.62" x2="397.9" y2="531.62" stroke="#333" stroke-width="0.9"/>
<line x1="390.84" y1="586.57" x2="395.96" y2="581.45" stroke="#222" stroke-width="1.3"/>
<line x1="388.9" y1="584.01" x2="397.9" y2="584.01" stroke="#333" stroke-width="0.9"/>
<line x1="390.84" y1="787.39" x2="395.96" y2="782.27" stroke="#222" stroke-width="1.3"/>
<line x1="388.9" y1="784.83" x2="397.9" y2="784.83" stroke="#333" stroke-width="0.9"/>
<text transform="translate(391.5,518.52) rotate(-90) scale(0.9,1)" font-size="12.5" text-anchor="middle" fill="#222">450</text>
<text transform="translate(391.5,557.81) rotate(-90) scale(0.9,1)" font-size="12.5" text-anchor="middle" fill="#222">900</text>
<text transform="translate(391.5,684.42) rotate(-90) scale(0.9,1)" font-size="12.5" text-anchor="middle" fill="#222">3 450</text>
<line x1="1014.4" y1="204.48" x2="1014.4" y2="784.83" stroke="#333" stroke-width="0.9"/>
<line x1="1011.84" y1="207.04" x2="1016.96" y2="201.92" stroke="#222" stroke-width="1.3"/>
<line x1="1009.9" y1="204.48" x2="1018.9" y2="204.48" stroke="#333" stroke-width="0.9"/>
<line x1="1011.84" y1="378.76" x2="1016.96" y2="373.64" stroke="#222" stroke-width="1.3"/>
<line x1="1009.9" y1="376.2" x2="1018.9" y2="376.2" stroke="#333" stroke-width="0.9"/>
<line x1="1011.84" y1="419.5" x2="1016.96" y2="414.38" stroke="#222" stroke-width="1.3"/>
<line x1="1009.9" y1="416.94" x2="1018.9" y2="416.94" stroke="#333" stroke-width="0.9"/>
<line x1="1011.84" y1="701.24" x2="1016.96" y2="696.12" stroke="#222" stroke-width="1.3"/>
<line x1="1009.9" y1="698.68" x2="1018.9" y2="698.68" stroke="#333" stroke-width="0.9"/>
<line x1="1011.84" y1="787.39" x2="1016.96" y2="782.27" stroke="#222" stroke-width="1.3"/>
<line x1="1009.9" y1="784.83" x2="1018.9" y2="784.83" stroke="#333" stroke-width="0.9"/>
<text transform="translate(1012.5,290.34) rotate(-90) scale(0.9,1)" font-size="12.5" text-anchor="middle" fill="#222">2 950</text>
<text transform="translate(1012.5,396.57) rotate(-90) scale(0.9,1)" font-size="12.5" text-anchor="middle" fill="#222">700</text>
<text transform="translate(1012.5,557.81) rotate(-90) scale(0.9,1)" font-size="12.5" text-anchor="middle" fill="#222">4 840</text>
<text transform="translate(1012.5,741.76) rotate(-90) scale(0.9,1)" font-size="12.5" text-anchor="middle" fill="#222">1 480</text>
<line x1="1030.2" y1="204.48" x2="1030.2" y2="784.83" stroke="#333" stroke-width="0.9"/>
<line x1="1027.64" y1="207.04" x2="1032.76" y2="201.92" stroke="#222" stroke-width="1.3"/>
<line x1="1025.7" y1="204.48" x2="1034.7" y2="204.48" stroke="#333" stroke-width="0.9"/>
<line x1="1027.64" y1="787.39" x2="1032.76" y2="782.27" stroke="#222" stroke-width="1.3"/>
<line x1="1025.7" y1="784.83" x2="1034.7" y2="784.83" stroke="#333" stroke-width="0.9"/>
<text transform="translate(1028.3,495) rotate(-90) scale(0.9,1)" font-size="12.5" text-anchor="middle" fill="#222">9 970</text>
<line x1="1043.2" y1="233" x2="1043.2" y2="850.03" stroke="#333" stroke-width="0.9"/>
<line x1="1040.64" y1="235.56" x2="1045.76" y2="230.44" stroke="#222" stroke-width="1.3"/>
<line x1="1038.7" y1="233" x2="1047.7" y2="233" stroke="#333" stroke-width="0.9"/>
<line x1="1040.64" y1="507.98" x2="1045.76" y2="502.86" stroke="#222" stroke-width="1.3"/>
<line x1="1038.7" y1="505.42" x2="1047.7" y2="505.42" stroke="#333" stroke-width="0.9"/>
<line x1="1040.64" y1="765.27" x2="1045.76" y2="760.15" stroke="#222" stroke-width="1.3"/>
<line x1="1038.7" y1="762.71" x2="1047.7" y2="762.71" stroke="#333" stroke-width="0.9"/>
<line x1="1040.64" y1="852.59" x2="1045.76" y2="847.47" stroke="#222" stroke-width="1.3"/>
<line x1="1038.7" y1="850.03" x2="1047.7" y2="850.03" stroke="#333" stroke-width="0.9"/>
<text transform="translate(1041.3,369.21) rotate(-90) scale(0.9,1)" font-size="12.5" text-anchor="middle" fill="#222">4 680</text>
<text transform="translate(1041.3,634.07) rotate(-90) scale(0.9,1)" font-size="12.5" text-anchor="middle" fill="#222">4 420</text>
<text transform="translate(1041.3,806.37) rotate(-90) scale(0.9,1)" font-size="12.5" text-anchor="middle" fill="#222">1500</text>
<line x1="1058.3" y1="233" x2="1058.3" y2="850.03" stroke="#333" stroke-width="0.9"/>
<line x1="1055.74" y1="235.56" x2="1060.86" y2="230.44" stroke="#222" stroke-width="1.3"/>
<line x1="1053.8" y1="233" x2="1062.8" y2="233" stroke="#333" stroke-width="0.9"/>
<line x1="1055.74" y1="852.59" x2="1060.86" y2="847.47" stroke="#222" stroke-width="1.3"/>
<line x1="1053.8" y1="850.03" x2="1062.8" y2="850.03" stroke="#333" stroke-width="0.9"/>
<text transform="translate(1056.4,541.51) rotate(-90) scale(0.9,1)" font-size="12.5" text-anchor="middle" fill="#222">10 600</text>
<circle cx="722.3" cy="81.2" r="9.2" fill="none" stroke="#222" stroke-width="1"/>
<text transform="translate(722.3,86.8) scale(0.55,1)" font-size="16" text-anchor="middle" fill="#222">10</text>
<circle cx="690" cy="381.3" r="9.5" fill="none" stroke="#222" stroke-width="1"/>
<text transform="translate(690,387.3) scale(0.72,1)" font-size="17" text-anchor="middle" fill="#222">7</text>
<circle cx="490.5" cy="561.3" r="9.5" fill="none" stroke="#222" stroke-width="1"/>
<text transform="translate(490.5,567.3) scale(0.72,1)" font-size="17" text-anchor="middle" fill="#222">5</text>
<circle cx="697.6" cy="559.8" r="9.5" fill="none" stroke="#222" stroke-width="1"/>
<text transform="translate(697.6,565.8) scale(0.72,1)" font-size="17" text-anchor="middle" fill="#222">6</text>
<circle cx="500.5" cy="681" r="9.5" fill="none" stroke="#222" stroke-width="1"/>
<text transform="translate(500.5,687) scale(0.72,1)" font-size="17" text-anchor="middle" fill="#222">1</text>
<circle cx="622" cy="681.5" r="9.5" fill="none" stroke="#222" stroke-width="1"/>
<text transform="translate(622,687.5) scale(0.72,1)" font-size="17" text-anchor="middle" fill="#222">2</text>
<circle cx="722.8" cy="680.7" r="9.5" fill="none" stroke="#222" stroke-width="1"/>
<text transform="translate(722.8,686.7) scale(0.72,1)" font-size="17" text-anchor="middle" fill="#222">3</text>
<circle cx="874.7" cy="680.7" r="9.5" fill="none" stroke="#222" stroke-width="1"/>
<text transform="translate(874.7,686.7) scale(0.72,1)" font-size="17" text-anchor="middle" fill="#222">4</text>
<circle cx="284.5" cy="688.3" r="9.5" fill="none" stroke="#222" stroke-width="1"/>
<text transform="translate(284.5,694.3) scale(0.72,1)" font-size="17" text-anchor="middle" fill="#222">8</text>
<circle cx="764.2" cy="866.3" r="9.5" fill="none" stroke="#222" stroke-width="1"/>
<text transform="translate(764.2,872.3) scale(0.72,1)" font-size="17" text-anchor="middle" fill="#222">9</text>
<text x="700.5" y="115.7" font-size="12.5" fill="#b0283a" textLength="37.6" lengthAdjust="spacingAndGlyphs">30,69 м</text>
<text transform="translate(740.2,110.1) scale(0.86,1)" font-size="8" text-anchor="middle" fill="#b0283a">2</text>
<line x1="700.5" y1="117.7" x2="738.1" y2="117.7" stroke="#b0283a" stroke-width="1"/>
<text x="898.75" y="456.3" font-size="12.5" fill="#b0283a" textLength="38.3" lengthAdjust="spacingAndGlyphs">40,08 м</text>
<text transform="translate(939.15,450.7) scale(0.86,1)" font-size="8" text-anchor="middle" fill="#b0283a">2</text>
<line x1="898.75" y1="458.3" x2="937.05" y2="458.3" stroke="#b0283a" stroke-width="1"/>
<text x="518.3" y="595" font-size="12.5" fill="#b0283a" textLength="31.8" lengthAdjust="spacingAndGlyphs">4,14 м</text>
<text transform="translate(552.2,589.4) scale(0.86,1)" font-size="8" text-anchor="middle" fill="#b0283a">2</text>
<line x1="518.3" y1="597" x2="550.1" y2="597" stroke="#b0283a" stroke-width="1"/>
<text x="722.7" y="588" font-size="12.5" fill="#b0283a" textLength="29.8" lengthAdjust="spacingAndGlyphs">9,01 м</text>
<text transform="translate(754.6,582.4) scale(0.86,1)" font-size="8" text-anchor="middle" fill="#b0283a">2</text>
<line x1="722.7" y1="590" x2="752.5" y2="590" stroke="#b0283a" stroke-width="1"/>
<text x="493" y="727.5" font-size="12.5" fill="#b0283a" textLength="31.8" lengthAdjust="spacingAndGlyphs">5,35 м</text>
<text transform="translate(526.9,721.9) scale(0.86,1)" font-size="8" text-anchor="middle" fill="#b0283a">2</text>
<line x1="493" y1="729.5" x2="524.8" y2="729.5" stroke="#b0283a" stroke-width="1"/>
<text x="626.7" y="727" font-size="12.5" fill="#b0283a" textLength="32.4" lengthAdjust="spacingAndGlyphs">4,25 м</text>
<text transform="translate(661.2,721.4) scale(0.86,1)" font-size="8" text-anchor="middle" fill="#b0283a">2</text>
<line x1="626.7" y1="729" x2="659.1" y2="729" stroke="#b0283a" stroke-width="1"/>
<text x="740.5" y="728.5" font-size="12.5" fill="#b0283a" textLength="32.8" lengthAdjust="spacingAndGlyphs">4,50 м</text>
<text transform="translate(775.4,722.9) scale(0.86,1)" font-size="8" text-anchor="middle" fill="#b0283a">2</text>
<line x1="740.5" y1="730.5" x2="773.3" y2="730.5" stroke="#b0283a" stroke-width="1"/>
<text x="908.15" y="730.7" font-size="12.5" fill="#b0283a" textLength="32.5" lengthAdjust="spacingAndGlyphs">7,65 м</text>
<text transform="translate(942.75,725.1) scale(0.86,1)" font-size="8" text-anchor="middle" fill="#b0283a">2</text>
<line x1="908.15" y1="732.7" x2="940.65" y2="732.7" stroke="#b0283a" stroke-width="1"/>
<text x="207.25" y="813.2" font-size="12.5" fill="#b0283a" textLength="38.3" lengthAdjust="spacingAndGlyphs">49,92 м</text>
<text transform="translate(247.65,807.6) scale(0.86,1)" font-size="8" text-anchor="middle" fill="#b0283a">2</text>
<line x1="207.25" y1="815.2" x2="245.55" y2="815.2" stroke="#b0283a" stroke-width="1"/>
<text x="348.05" y="813" font-size="12.5" fill="#b0283a" textLength="38.7" lengthAdjust="spacingAndGlyphs">24,20 м</text>
<text transform="translate(388.85,807.4) scale(0.86,1)" font-size="8" text-anchor="middle" fill="#b0283a">2</text>
<line x1="348.05" y1="815" x2="386.75" y2="815" stroke="#b0283a" stroke-width="1"/>
<text x="748.9" y="893.1" font-size="12.5" fill="#b0283a" textLength="36.6" lengthAdjust="spacingAndGlyphs">13,39 м</text>
<text transform="translate(787.6,887.5) scale(0.86,1)" font-size="8" text-anchor="middle" fill="#b0283a">2</text>
<line x1="748.9" y1="895.1" x2="785.5" y2="895.1" stroke="#b0283a" stroke-width="1"/>
<circle cx="426" cy="118.6" r="11.7" fill="#fff" stroke="#1a1a1a" stroke-width="1"/>
<text transform="translate(426,124.9)" font-size="17.5" text-anchor="middle" fill="#111">1</text>
<circle cx="455.9" cy="118.6" r="11.7" fill="#fff" stroke="#1a1a1a" stroke-width="1"/>
<text transform="translate(455.9,124.9)" font-size="17.5" text-anchor="middle" fill="#111">1"</text>
<circle cx="968.6" cy="119.7" r="11.7" fill="#fff" stroke="#1a1a1a" stroke-width="1"/>
<text transform="translate(968.6,126)" font-size="17.5" text-anchor="middle" fill="#111">2</text>
<circle cx="175.7" cy="190" r="11.7" fill="#fff" stroke="#1a1a1a" stroke-width="1"/>
<text transform="translate(175.7,196.3)" font-size="17.5" text-anchor="middle" fill="#111">1'</text>
<circle cx="175.9" cy="952.8" r="11.7" fill="#fff" stroke="#1a1a1a" stroke-width="1"/>
<text transform="translate(175.9,959.1)" font-size="17.5" text-anchor="middle" fill="#111">1'</text>
<circle cx="426.4" cy="952.8" r="11.7" fill="#fff" stroke="#1a1a1a" stroke-width="1"/>
<text transform="translate(426.4,959.1)" font-size="17.5" text-anchor="middle" fill="#111">1</text>
<circle cx="455.8" cy="952.8" r="11.7" fill="#fff" stroke="#1a1a1a" stroke-width="1"/>
<text transform="translate(455.8,959.1)" font-size="17.5" text-anchor="middle" fill="#111">1"</text>
<circle cx="968.9" cy="952.3" r="11.7" fill="#fff" stroke="#1a1a1a" stroke-width="1"/>
<text transform="translate(968.9,958.6)" font-size="17.5" text-anchor="middle" fill="#111">2</text>
<circle cx="94.2" cy="233" r="11.7" fill="#fff" stroke="#1a1a1a" stroke-width="1"/>
<text transform="translate(94.2,239.3)" font-size="17.5" text-anchor="middle" fill="#111">В</text>
<circle cx="94.2" cy="505.4" r="11.7" fill="#fff" stroke="#1a1a1a" stroke-width="1"/>
<text transform="translate(94.2,511.7)" font-size="17.5" text-anchor="middle" fill="#111">Б</text>
<circle cx="94.2" cy="762.7" r="11.7" fill="#fff" stroke="#1a1a1a" stroke-width="1"/>
<text transform="translate(94.2,769)" font-size="17.5" text-anchor="middle" fill="#111">А</text>
<circle cx="94.2" cy="850" r="11.7" fill="#fff" stroke="#1a1a1a" stroke-width="1"/>
<text transform="translate(94.2,856.3)" font-size="17.5" text-anchor="middle" fill="#111">А'</text>
<circle cx="1090.2" cy="233" r="11.7" fill="#fff" stroke="#1a1a1a" stroke-width="1"/>
<text transform="translate(1090.2,239.3)" font-size="17.5" text-anchor="middle" fill="#111">В</text>
<circle cx="1090.2" cy="505.4" r="11.7" fill="#fff" stroke="#1a1a1a" stroke-width="1"/>
<text transform="translate(1090.2,511.7)" font-size="17.5" text-anchor="middle" fill="#111">Б</text>
<circle cx="1090.2" cy="762.7" r="11.7" fill="#fff" stroke="#1a1a1a" stroke-width="1"/>
<text transform="translate(1090.2,769)" font-size="17.5" text-anchor="middle" fill="#111">А</text>
<circle cx="1090.2" cy="850" r="11.7" fill="#fff" stroke="#1a1a1a" stroke-width="1"/>
<text transform="translate(1090.2,856.3)" font-size="17.5" text-anchor="middle" fill="#111">А'</text>
<text x="1229.2" y="44.9" font-size="24" text-anchor="start" fill="#1a1a1a" textLength="207.6" lengthAdjust="spacingAndGlyphs" stroke="#fff" stroke-width="0.28">План 1–го этажа М 1:100</text>
<line x1="1228.5" y1="47.8" x2="1437.5" y2="47.8" stroke="#1a1a1a" stroke-width="1.2"/>
<text x="1184.9" y="126" font-size="21.5" text-anchor="start" fill="#1a1a1a" textLength="206.8" lengthAdjust="spacingAndGlyphs" stroke="#fff" stroke-width="0.28">Условные обозначения</text>
<rect x="1176" y="150.1" width="55.8" height="22.5" fill="#fff" stroke="none" stroke-width="0"/>
<path d="M1176 150.1L1182.2 161.35M1182.2 161.35L1176 172.6M1182.2 150.1L1176 161.35M1176 161.35L1182.2 172.6M1182.2 150.1L1188.4 161.35M1188.4 161.35L1182.2 172.6M1188.4 150.1L1182.2 161.35M1182.2 161.35L1188.4 172.6M1188.4 150.1L1194.6 161.35M1194.6 161.35L1188.4 172.6M1194.6 150.1L1188.4 161.35M1188.4 161.35L1194.6 172.6M1194.6 150.1L1200.8 161.35M1200.8 161.35L1194.6 172.6M1200.8 150.1L1194.6 161.35M1194.6 161.35L1200.8 172.6M1200.8 150.1L1207 161.35M1207 161.35L1200.8 172.6M1207 150.1L1200.8 161.35M1200.8 161.35L1207 172.6M1207 150.1L1213.2 161.35M1213.2 161.35L1207 172.6M1213.2 150.1L1207 161.35M1207 161.35L1213.2 172.6M1213.2 150.1L1219.4 161.35M1219.4 161.35L1213.2 172.6M1219.4 150.1L1213.2 161.35M1213.2 161.35L1219.4 172.6M1219.4 150.1L1225.6 161.35M1225.6 161.35L1219.4 172.6M1225.6 150.1L1219.4 161.35M1219.4 161.35L1225.6 172.6M1225.6 150.1L1231.8 161.35M1231.8 161.35L1225.6 172.6M1231.8 150.1L1225.6 161.35M1225.6 161.35L1231.8 172.6" stroke="#333" stroke-width="0.9" fill="none"/>
<rect x="1176" y="150.1" width="55.8" height="22.5" fill="none" stroke="#333" stroke-width="1.2"/>
<rect x="1176" y="186.4" width="55.8" height="22" fill="url(#brick)" stroke="#444" stroke-width="1.1"/>
<rect x="1176" y="223.2" width="55.8" height="21.9" fill="url(#part)" stroke="#444" stroke-width="1.1"/>
<rect x="1176" y="259.5" width="55.8" height="22.3" fill="url(#vent)" stroke="#444" stroke-width="1.1"/>
<text x="1249.9" y="167" font-size="16" text-anchor="start" fill="#1a1a1a" textLength="71" lengthAdjust="spacingAndGlyphs" stroke="#fff" stroke-width="0.28">Утеплитель</text>
<text x="1249.9" y="203.3" font-size="16" text-anchor="start" fill="#1a1a1a" textLength="180.7" lengthAdjust="spacingAndGlyphs" stroke="#fff" stroke-width="0.28">Кирпич силикатный кладочный</text>
<text x="1249.9" y="230.2" font-size="16" text-anchor="start" fill="#1a1a1a" textLength="171" lengthAdjust="spacingAndGlyphs" stroke="#fff" stroke-width="0.28">Перегородки из силикатного</text>
<text x="1249.9" y="250.3" font-size="16" text-anchor="start" fill="#1a1a1a" textLength="46.4" lengthAdjust="spacingAndGlyphs" stroke="#fff" stroke-width="0.28">кирпича</text>
<text x="1249.9" y="266.4" font-size="16" text-anchor="start" fill="#1a1a1a" textLength="179.4" lengthAdjust="spacingAndGlyphs" stroke="#fff" stroke-width="0.28">Вентканалы из керамического</text>
<text x="1249.9" y="286.6" font-size="16" text-anchor="start" fill="#1a1a1a" textLength="46.4" lengthAdjust="spacingAndGlyphs" stroke="#fff" stroke-width="0.28">кирпича</text>
<text x="1225.7" y="346" font-size="24" text-anchor="start" fill="#1a1a1a" textLength="205.2" lengthAdjust="spacingAndGlyphs" stroke="#fff" stroke-width="0.28">Экспликация помещений</text>
<line x1="1225" y1="348.8" x2="1431.5" y2="348.8" stroke="#1a1a1a" stroke-width="1.2"/>
<line x1="1146.4" y1="367.7" x2="1510" y2="367.7" stroke="#3a3a3a" stroke-width="1.3"/>
<line x1="1146.4" y1="425.6" x2="1510" y2="425.6" stroke="#3a3a3a" stroke-width="1.3"/>
<line x1="1146.4" y1="454.7" x2="1510" y2="454.7" stroke="#3a3a3a" stroke-width="1.3"/>
<line x1="1146.4" y1="483.8" x2="1510" y2="483.8" stroke="#3a3a3a" stroke-width="1.3"/>
<line x1="1146.4" y1="512.9" x2="1510" y2="512.9" stroke="#3a3a3a" stroke-width="1.3"/>
<line x1="1146.4" y1="541.8" x2="1510" y2="541.8" stroke="#3a3a3a" stroke-width="1.3"/>
<line x1="1146.4" y1="570.6" x2="1510" y2="570.6" stroke="#3a3a3a" stroke-width="1.3"/>
<line x1="1146.4" y1="599.7" x2="1510" y2="599.7" stroke="#3a3a3a" stroke-width="1.3"/>
<line x1="1146.4" y1="628.8" x2="1510" y2="628.8" stroke="#3a3a3a" stroke-width="1.3"/>
<line x1="1146.4" y1="658" x2="1510" y2="658" stroke="#3a3a3a" stroke-width="1.3"/>
<line x1="1146.4" y1="687" x2="1510" y2="687" stroke="#3a3a3a" stroke-width="1.3"/>
<line x1="1146.4" y1="716.2" x2="1510" y2="716.2" stroke="#3a3a3a" stroke-width="1.3"/>
<line x1="1146.4" y1="745.2" x2="1510" y2="745.2" stroke="#3a3a3a" stroke-width="1.3"/>
<line x1="1146.4" y1="367.7" x2="1146.4" y2="745.2" stroke="#3a3a3a" stroke-width="1.3"/>
<line x1="1237.6" y1="367.7" x2="1237.6" y2="745.2" stroke="#3a3a3a" stroke-width="1.3"/>
<line x1="1419.2" y1="367.7" x2="1419.2" y2="745.2" stroke="#3a3a3a" stroke-width="1.3"/>
<text x="1192.3" y="402.5" font-size="15" text-anchor="middle" fill="#1a1a1a" textLength="33.6" lengthAdjust="spacingAndGlyphs" stroke="#fff" stroke-width="0.28">№п/п</text>
<text x="1328.5" y="402.5" font-size="15" text-anchor="middle" fill="#1a1a1a" textLength="141.7" lengthAdjust="spacingAndGlyphs" stroke="#fff" stroke-width="0.28">Наименование строения</text>
<text x="1464.5" y="402.5" font-size="15" text-anchor="middle" fill="#1a1a1a" textLength="49.7" lengthAdjust="spacingAndGlyphs" stroke="#fff" stroke-width="0.28">Площадь</text>
<text transform="translate(1192.3,445.75) scale(0.78,1)" font-size="15" text-anchor="middle" fill="#1a1a1a" stroke="#fff" stroke-width="0.28">1</text>
<text x="1328.5" y="445.75" font-size="15" text-anchor="middle" fill="#1a1a1a" textLength="62.9" lengthAdjust="spacingAndGlyphs" stroke="#fff" stroke-width="0.28">Котельная</text>
<text x="1445.7" y="445.75" font-size="15" text-anchor="start" fill="#1a1a1a" textLength="31.6" lengthAdjust="spacingAndGlyphs" stroke="#fff" stroke-width="0.28">5,35м</text>
<text transform="translate(1479.5,439.25) scale(0.8,1)" font-size="9.5" text-anchor="middle" fill="#1a1a1a">2</text>
<text transform="translate(1192.3,474.85) scale(0.78,1)" font-size="15" text-anchor="middle" fill="#1a1a1a" stroke="#fff" stroke-width="0.28">2</text>
<text x="1328.5" y="474.85" font-size="15" text-anchor="middle" fill="#1a1a1a" textLength="40.3" lengthAdjust="spacingAndGlyphs" stroke="#fff" stroke-width="0.28">Тамбур</text>
<text x="1445.7" y="474.85" font-size="15" text-anchor="start" fill="#1a1a1a" textLength="31.6" lengthAdjust="spacingAndGlyphs" stroke="#fff" stroke-width="0.28">4,25м</text>
<text transform="translate(1479.5,468.35) scale(0.8,1)" font-size="9.5" text-anchor="middle" fill="#1a1a1a">2</text>
<text transform="translate(1192.3,503.95) scale(0.78,1)" font-size="15" text-anchor="middle" fill="#1a1a1a" stroke="#fff" stroke-width="0.28">3</text>
<text transform="translate(1328.5,503.95) scale(0.95,1)" font-size="15" text-anchor="middle" fill="#1a1a1a" stroke="#fff" stroke-width="0.28">с/у</text>
<text x="1445.7" y="503.95" font-size="15" text-anchor="start" fill="#1a1a1a" textLength="31.6" lengthAdjust="spacingAndGlyphs" stroke="#fff" stroke-width="0.28">4,50м</text>
<text transform="translate(1479.5,497.45) scale(0.8,1)" font-size="9.5" text-anchor="middle" fill="#1a1a1a">2</text>
<text transform="translate(1192.3,532.95) scale(0.78,1)" font-size="15" text-anchor="middle" fill="#1a1a1a" stroke="#fff" stroke-width="0.28">4</text>
<text x="1328.5" y="532.95" font-size="15" text-anchor="middle" fill="#1a1a1a" textLength="49.7" lengthAdjust="spacingAndGlyphs" stroke="#fff" stroke-width="0.28">Кабинет</text>
<text x="1445.7" y="532.95" font-size="15" text-anchor="start" fill="#1a1a1a" textLength="31.6" lengthAdjust="spacingAndGlyphs" stroke="#fff" stroke-width="0.28">7,65м</text>
<text transform="translate(1479.5,526.45) scale(0.8,1)" font-size="9.5" text-anchor="middle" fill="#1a1a1a">2</text>
<text transform="translate(1192.3,561.8) scale(0.78,1)" font-size="15" text-anchor="middle" fill="#1a1a1a" stroke="#fff" stroke-width="0.28">5</text>
<text x="1328.5" y="561.8" font-size="15" text-anchor="middle" fill="#1a1a1a" textLength="54.4" lengthAdjust="spacingAndGlyphs" stroke="#fff" stroke-width="0.28">Кладовая</text>
<text x="1445.7" y="561.8" font-size="15" text-anchor="start" fill="#1a1a1a" textLength="31.6" lengthAdjust="spacingAndGlyphs" stroke="#fff" stroke-width="0.28">4,14м</text>
<text transform="translate(1479.5,555.3) scale(0.8,1)" font-size="9.5" text-anchor="middle" fill="#1a1a1a">2</text>
<text transform="translate(1192.3,590.75) scale(0.78,1)" font-size="15" text-anchor="middle" fill="#1a1a1a" stroke="#fff" stroke-width="0.28">6</text>
<text x="1328.5" y="590.75" font-size="15" text-anchor="middle" fill="#1a1a1a" textLength="28" lengthAdjust="spacingAndGlyphs" stroke="#fff" stroke-width="0.28">Холл</text>
<text x="1445.7" y="590.75" font-size="15" text-anchor="start" fill="#1a1a1a" textLength="31.6" lengthAdjust="spacingAndGlyphs" stroke="#fff" stroke-width="0.28">9,01м</text>
<text transform="translate(1479.5,584.25) scale(0.8,1)" font-size="9.5" text-anchor="middle" fill="#1a1a1a">2</text>
<text transform="translate(1192.3,619.85) scale(0.78,1)" font-size="15" text-anchor="middle" fill="#1a1a1a" stroke="#fff" stroke-width="0.28">7</text>
<text x="1328.5" y="619.85" font-size="15" text-anchor="middle" fill="#1a1a1a" textLength="95.7" lengthAdjust="spacingAndGlyphs" stroke="#fff" stroke-width="0.28">Кухня–гостиная</text>
<text x="1443" y="619.85" font-size="15" text-anchor="start" fill="#1a1a1a" textLength="37" lengthAdjust="spacingAndGlyphs" stroke="#fff" stroke-width="0.28">40,08м</text>
<text transform="translate(1482.2,613.35) scale(0.8,1)" font-size="9.5" text-anchor="middle" fill="#1a1a1a">2</text>
<text transform="translate(1192.3,649) scale(0.78,1)" font-size="15" text-anchor="middle" fill="#1a1a1a" stroke="#fff" stroke-width="0.28">8</text>
<text x="1328.5" y="649" font-size="15" text-anchor="middle" fill="#1a1a1a" textLength="34.2" lengthAdjust="spacingAndGlyphs" stroke="#fff" stroke-width="0.28">Гараж</text>
<text x="1443" y="649" font-size="15" text-anchor="start" fill="#1a1a1a" textLength="37" lengthAdjust="spacingAndGlyphs" stroke="#fff" stroke-width="0.28">23,57м</text>
<text transform="translate(1482.2,642.5) scale(0.8,1)" font-size="9.5" text-anchor="middle" fill="#1a1a1a">2</text>
<text x="1152.5" y="678.1" font-size="15" text-anchor="start" fill="#1a1a1a" textLength="36.7" lengthAdjust="spacingAndGlyphs" stroke="#fff" stroke-width="0.28">Итого</text>
<text x="1443" y="678.1" font-size="15" text-anchor="start" fill="#1a1a1a" textLength="37" lengthAdjust="spacingAndGlyphs" stroke="#fff" stroke-width="0.28">98,55м</text>
<text transform="translate(1482.2,671.6) scale(0.8,1)" font-size="9.5" text-anchor="middle" fill="#1a1a1a">2</text>
<text transform="translate(1192.3,707.2) scale(0.78,1)" font-size="15" text-anchor="middle" fill="#1a1a1a" stroke="#fff" stroke-width="0.28">9</text>
<text x="1328.5" y="707.2" font-size="15" text-anchor="middle" fill="#1a1a1a" textLength="47.7" lengthAdjust="spacingAndGlyphs" stroke="#fff" stroke-width="0.28">Крыльцо</text>
<text x="1443" y="707.2" font-size="15" text-anchor="start" fill="#1a1a1a" textLength="37" lengthAdjust="spacingAndGlyphs" stroke="#fff" stroke-width="0.28">13,39м</text>
<text transform="translate(1482.2,700.7) scale(0.8,1)" font-size="9.5" text-anchor="middle" fill="#1a1a1a">2</text>
<text transform="translate(1192.3,736.3) scale(0.78,1)" font-size="15" text-anchor="middle" fill="#1a1a1a" stroke="#fff" stroke-width="0.28">10</text>
<text x="1328.5" y="736.3" font-size="15" text-anchor="middle" fill="#1a1a1a" textLength="46.4" lengthAdjust="spacingAndGlyphs" stroke="#fff" stroke-width="0.28">Терраса</text>
<text x="1443" y="736.3" font-size="15" text-anchor="start" fill="#1a1a1a" textLength="37" lengthAdjust="spacingAndGlyphs" stroke="#fff" stroke-width="0.28">30,69м</text>
<text transform="translate(1482.2,729.8) scale(0.8,1)" font-size="9.5" text-anchor="middle" fill="#1a1a1a">2</text>
<line x1="72.5" y1="18.3" x2="1510" y2="18.3" stroke="#7a7a7a" stroke-width="1.6"/>
<line x1="73" y1="17.5" x2="73" y2="1062" stroke="#999" stroke-width="2"/>
<line x1="1510" y1="17.5" x2="1510" y2="1062" stroke="#5e5e5e" stroke-width="2.2"/>
<line x1="72" y1="1061.5" x2="1511" y2="1061.5" stroke="#5a5a5a" stroke-width="2.2"/>
</svg>
</body></html>
